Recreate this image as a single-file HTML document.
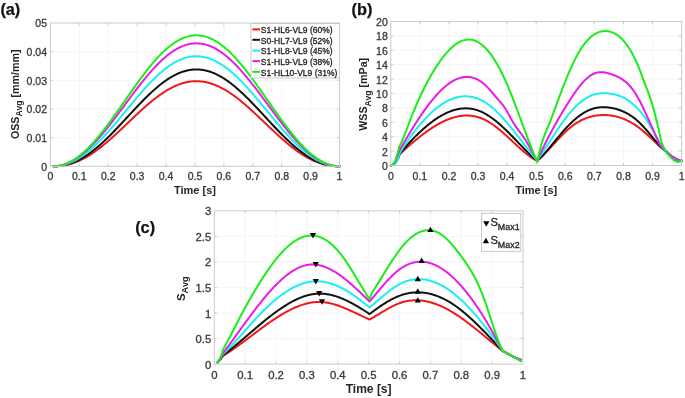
<!DOCTYPE html><html><head><meta charset="utf-8"><style>html,body{margin:0;padding:0;background:#fff;}svg{display:block;will-change:transform;}</style></head><body>
<svg width="685" height="398" viewBox="0 0 685 398" font-family='"Liberation Sans", sans-serif'>
<rect width="685" height="398" fill="#fff"/>
<g>
<line x1="79.31" y1="23.0" x2="79.31" y2="166.3" stroke="#f6f6f6" stroke-width="1.2"/>
<line x1="108.22" y1="23.0" x2="108.22" y2="166.3" stroke="#f6f6f6" stroke-width="1.2"/>
<line x1="137.13" y1="23.0" x2="137.13" y2="166.3" stroke="#f6f6f6" stroke-width="1.2"/>
<line x1="166.04" y1="23.0" x2="166.04" y2="166.3" stroke="#f6f6f6" stroke-width="1.2"/>
<line x1="194.95" y1="23.0" x2="194.95" y2="166.3" stroke="#f6f6f6" stroke-width="1.2"/>
<line x1="223.86" y1="23.0" x2="223.86" y2="166.3" stroke="#f6f6f6" stroke-width="1.2"/>
<line x1="252.77" y1="23.0" x2="252.77" y2="166.3" stroke="#f6f6f6" stroke-width="1.2"/>
<line x1="281.68" y1="23.0" x2="281.68" y2="166.3" stroke="#f6f6f6" stroke-width="1.2"/>
<line x1="310.59" y1="23.0" x2="310.59" y2="166.3" stroke="#f6f6f6" stroke-width="1.2"/>
<line x1="50.4" y1="137.64" x2="339.5" y2="137.64" stroke="#f6f6f6" stroke-width="1.2"/>
<line x1="50.4" y1="108.98" x2="339.5" y2="108.98" stroke="#f6f6f6" stroke-width="1.2"/>
<line x1="50.4" y1="80.32" x2="339.5" y2="80.32" stroke="#f6f6f6" stroke-width="1.2"/>
<line x1="50.4" y1="51.66" x2="339.5" y2="51.66" stroke="#f6f6f6" stroke-width="1.2"/>
<path d="M53.29,166.30 L54.25,166.30 L55.21,166.28 L56.16,166.25 L57.12,166.20 L58.08,166.14 L59.03,166.07 L59.99,165.98 L60.95,165.88 L61.91,165.75 L62.86,165.62 L63.82,165.46 L64.78,165.29 L65.73,165.11 L66.69,164.90 L67.65,164.68 L68.61,164.44 L69.56,164.19 L70.52,163.92 L71.48,163.63 L72.44,163.33 L73.39,163.00 L74.35,162.67 L75.31,162.31 L76.26,161.94 L77.22,161.55 L78.18,161.14 L79.14,160.72 L80.09,160.28 L81.05,159.83 L82.01,159.36 L82.96,158.87 L83.92,158.37 L84.88,157.85 L85.84,157.32 L86.79,156.77 L87.75,156.20 L88.71,155.62 L89.67,155.03 L90.62,154.42 L91.58,153.80 L92.54,153.17 L93.49,152.52 L94.45,151.85 L95.41,151.18 L96.37,150.49 L97.32,149.79 L98.28,149.07 L99.24,148.35 L100.19,147.61 L101.15,146.86 L102.11,146.10 L103.07,145.33 L104.02,144.55 L104.98,143.76 L105.94,142.96 L106.90,142.15 L107.85,141.34 L108.81,140.51 L109.77,139.67 L110.72,138.83 L111.68,137.98 L112.64,137.12 L113.60,136.26 L114.55,135.39 L115.51,134.51 L116.47,133.63 L117.42,132.75 L118.38,131.86 L119.34,130.96 L120.30,130.06 L121.25,129.16 L122.21,128.26 L123.17,127.35 L124.13,126.44 L125.08,125.53 L126.04,124.62 L127.00,123.70 L127.95,122.79 L128.91,121.87 L129.87,120.96 L130.83,120.05 L131.78,119.14 L132.74,118.23 L133.70,117.32 L134.65,116.42 L135.61,115.52 L136.57,114.62 L137.53,113.73 L138.48,112.84 L139.44,111.95 L140.40,111.07 L141.36,110.20 L142.31,109.33 L143.27,108.47 L144.23,107.62 L145.18,106.77 L146.14,105.93 L147.10,105.10 L148.06,104.28 L149.01,103.46 L149.97,102.66 L150.93,101.86 L151.88,101.08 L152.84,100.30 L153.80,99.54 L154.76,98.79 L155.71,98.05 L156.67,97.32 L157.63,96.60 L158.59,95.90 L159.54,95.21 L160.50,94.53 L161.46,93.87 L162.41,93.22 L163.37,92.58 L164.33,91.96 L165.29,91.35 L166.24,90.76 L167.20,90.19 L168.16,89.62 L169.11,89.08 L170.07,88.55 L171.03,88.04 L171.99,87.55 L172.94,87.07 L173.90,86.61 L174.86,86.17 L175.82,85.74 L176.77,85.33 L177.73,84.94 L178.69,84.57 L179.64,84.22 L180.60,83.89 L181.56,83.57 L182.52,83.28 L183.47,83.00 L184.43,82.74 L185.39,82.50 L186.34,82.28 L187.30,82.08 L188.26,81.90 L189.22,81.74 L190.17,81.60 L191.13,81.48 L192.09,81.38 L193.05,81.30 L194.00,81.24 L194.96,81.20 L195.92,81.18 L196.87,81.18 L197.83,81.20 L198.79,81.24 L199.75,81.30 L200.70,81.38 L201.66,81.48 L202.62,81.60 L203.57,81.74 L204.53,81.90 L205.49,82.08 L206.45,82.28 L207.40,82.50 L208.36,82.74 L209.32,83.00 L210.28,83.28 L211.23,83.57 L212.19,83.89 L213.15,84.22 L214.10,84.57 L215.06,84.94 L216.02,85.33 L216.98,85.74 L217.93,86.17 L218.89,86.61 L219.85,87.07 L220.80,87.55 L221.76,88.04 L222.72,88.55 L223.68,89.08 L224.63,89.62 L225.59,90.19 L226.55,90.76 L227.51,91.35 L228.46,91.96 L229.42,92.58 L230.38,93.22 L231.33,93.87 L232.29,94.53 L233.25,95.21 L234.21,95.90 L235.16,96.60 L236.12,97.32 L237.08,98.05 L238.03,98.79 L238.99,99.54 L239.95,100.30 L240.91,101.08 L241.86,101.86 L242.82,102.66 L243.78,103.46 L244.74,104.28 L245.69,105.10 L246.65,105.93 L247.61,106.77 L248.56,107.62 L249.52,108.47 L250.48,109.33 L251.44,110.20 L252.39,111.07 L253.35,111.95 L254.31,112.84 L255.26,113.73 L256.22,114.62 L257.18,115.52 L258.14,116.42 L259.09,117.32 L260.05,118.23 L261.01,119.14 L261.97,120.05 L262.92,120.96 L263.88,121.87 L264.84,122.79 L265.79,123.70 L266.75,124.62 L267.71,125.53 L268.67,126.44 L269.62,127.35 L270.58,128.26 L271.54,129.16 L272.49,130.06 L273.45,130.96 L274.41,131.86 L275.37,132.75 L276.32,133.63 L277.28,134.51 L278.24,135.39 L279.20,136.26 L280.15,137.12 L281.11,137.98 L282.07,138.83 L283.02,139.67 L283.98,140.51 L284.94,141.34 L285.90,142.15 L286.85,142.96 L287.81,143.76 L288.77,144.55 L289.72,145.33 L290.68,146.10 L291.64,146.86 L292.60,147.61 L293.55,148.35 L294.51,149.07 L295.47,149.79 L296.43,150.49 L297.38,151.18 L298.34,151.85 L299.30,152.52 L300.25,153.17 L301.21,153.80 L302.17,154.42 L303.13,155.03 L304.08,155.62 L305.04,156.20 L306.00,156.77 L306.95,157.32 L307.91,157.85 L308.87,158.37 L309.83,158.87 L310.78,159.36 L311.74,159.83 L312.70,160.28 L313.66,160.72 L314.61,161.14 L315.57,161.55 L316.53,161.94 L317.48,162.31 L318.44,162.67 L319.40,163.00 L320.36,163.33 L321.31,163.63 L322.27,163.92 L323.23,164.19 L324.18,164.44 L325.14,164.68 L326.10,164.90 L327.06,165.11 L328.01,165.29 L328.97,165.46 L329.93,165.62 L330.89,165.75 L331.84,165.88 L332.80,165.98 L333.76,166.07 L334.71,166.14 L335.67,166.20 L336.63,166.25 L337.59,166.28 L338.54,166.30 L339.50,166.30" fill="none" stroke="#f01818" stroke-width="2.0" stroke-linejoin="round" stroke-linecap="round"/>
<path d="M53.29,166.30 L54.25,166.29 L55.21,166.27 L56.16,166.24 L57.12,166.18 L58.08,166.11 L59.03,166.02 L59.99,165.92 L60.95,165.79 L61.91,165.65 L62.86,165.49 L63.82,165.31 L64.78,165.11 L65.73,164.89 L66.69,164.65 L67.65,164.39 L68.61,164.11 L69.56,163.81 L70.52,163.50 L71.48,163.16 L72.44,162.81 L73.39,162.43 L74.35,162.04 L75.31,161.63 L76.26,161.19 L77.22,160.74 L78.18,160.27 L79.14,159.79 L80.09,159.28 L81.05,158.75 L82.01,158.21 L82.96,157.65 L83.92,157.07 L84.88,156.47 L85.84,155.86 L86.79,155.23 L87.75,154.58 L88.71,153.91 L89.67,153.23 L90.62,152.53 L91.58,151.82 L92.54,151.09 L93.49,150.34 L94.45,149.58 L95.41,148.81 L96.37,148.02 L97.32,147.22 L98.28,146.40 L99.24,145.57 L100.19,144.73 L101.15,143.87 L102.11,143.00 L103.07,142.12 L104.02,141.23 L104.98,140.33 L105.94,139.42 L106.90,138.49 L107.85,137.56 L108.81,136.62 L109.77,135.67 L110.72,134.71 L111.68,133.74 L112.64,132.76 L113.60,131.78 L114.55,130.79 L115.51,129.79 L116.47,128.79 L117.42,127.78 L118.38,126.77 L119.34,125.75 L120.30,124.73 L121.25,123.71 L122.21,122.68 L123.17,121.65 L124.13,120.61 L125.08,119.58 L126.04,118.54 L127.00,117.51 L127.95,116.47 L128.91,115.43 L129.87,114.40 L130.83,113.36 L131.78,112.33 L132.74,111.30 L133.70,110.27 L134.65,109.25 L135.61,108.23 L136.57,107.21 L137.53,106.20 L138.48,105.19 L139.44,104.19 L140.40,103.19 L141.36,102.21 L142.31,101.22 L143.27,100.25 L144.23,99.28 L145.18,98.32 L146.14,97.37 L147.10,96.44 L148.06,95.50 L149.01,94.58 L149.97,93.68 L150.93,92.78 L151.88,91.89 L152.84,91.01 L153.80,90.15 L154.76,89.30 L155.71,88.47 L156.67,87.64 L157.63,86.83 L158.59,86.04 L159.54,85.26 L160.50,84.49 L161.46,83.74 L162.41,83.01 L163.37,82.29 L164.33,81.59 L165.29,80.90 L166.24,80.24 L167.20,79.59 L168.16,78.95 L169.11,78.34 L170.07,77.75 L171.03,77.17 L171.99,76.61 L172.94,76.07 L173.90,75.55 L174.86,75.05 L175.82,74.57 L176.77,74.11 L177.73,73.67 L178.69,73.26 L179.64,72.86 L180.60,72.48 L181.56,72.13 L182.52,71.79 L183.47,71.48 L184.43,71.19 L185.39,70.92 L186.34,70.67 L187.30,70.45 L188.26,70.25 L189.22,70.07 L190.17,69.91 L191.13,69.77 L192.09,69.66 L193.05,69.57 L194.00,69.50 L194.96,69.45 L195.92,69.43 L196.87,69.43 L197.83,69.45 L198.79,69.50 L199.75,69.57 L200.70,69.66 L201.66,69.77 L202.62,69.91 L203.57,70.07 L204.53,70.25 L205.49,70.45 L206.45,70.67 L207.40,70.92 L208.36,71.19 L209.32,71.48 L210.28,71.79 L211.23,72.13 L212.19,72.48 L213.15,72.86 L214.10,73.26 L215.06,73.67 L216.02,74.11 L216.98,74.57 L217.93,75.05 L218.89,75.55 L219.85,76.07 L220.80,76.61 L221.76,77.17 L222.72,77.75 L223.68,78.34 L224.63,78.95 L225.59,79.59 L226.55,80.24 L227.51,80.90 L228.46,81.59 L229.42,82.29 L230.38,83.01 L231.33,83.74 L232.29,84.49 L233.25,85.26 L234.21,86.04 L235.16,86.83 L236.12,87.64 L237.08,88.47 L238.03,89.30 L238.99,90.15 L239.95,91.01 L240.91,91.89 L241.86,92.78 L242.82,93.68 L243.78,94.58 L244.74,95.50 L245.69,96.44 L246.65,97.37 L247.61,98.32 L248.56,99.28 L249.52,100.25 L250.48,101.22 L251.44,102.21 L252.39,103.19 L253.35,104.19 L254.31,105.19 L255.26,106.20 L256.22,107.21 L257.18,108.23 L258.14,109.25 L259.09,110.27 L260.05,111.30 L261.01,112.33 L261.97,113.36 L262.92,114.40 L263.88,115.43 L264.84,116.47 L265.79,117.51 L266.75,118.54 L267.71,119.58 L268.67,120.61 L269.62,121.65 L270.58,122.68 L271.54,123.71 L272.49,124.73 L273.45,125.75 L274.41,126.77 L275.37,127.78 L276.32,128.79 L277.28,129.79 L278.24,130.79 L279.20,131.78 L280.15,132.76 L281.11,133.74 L282.07,134.71 L283.02,135.67 L283.98,136.62 L284.94,137.56 L285.90,138.49 L286.85,139.42 L287.81,140.33 L288.77,141.23 L289.72,142.12 L290.68,143.00 L291.64,143.87 L292.60,144.73 L293.55,145.57 L294.51,146.40 L295.47,147.22 L296.43,148.02 L297.38,148.81 L298.34,149.58 L299.30,150.34 L300.25,151.09 L301.21,151.82 L302.17,152.53 L303.13,153.23 L304.08,153.91 L305.04,154.58 L306.00,155.23 L306.95,155.86 L307.91,156.47 L308.87,157.07 L309.83,157.65 L310.78,158.21 L311.74,158.75 L312.70,159.28 L313.66,159.79 L314.61,160.27 L315.57,160.74 L316.53,161.19 L317.48,161.63 L318.44,162.04 L319.40,162.43 L320.36,162.81 L321.31,163.16 L322.27,163.50 L323.23,163.81 L324.18,164.11 L325.14,164.39 L326.10,164.65 L327.06,164.89 L328.01,165.11 L328.97,165.31 L329.93,165.49 L330.89,165.65 L331.84,165.79 L332.80,165.92 L333.76,166.02 L334.71,166.11 L335.67,166.18 L336.63,166.24 L337.59,166.27 L338.54,166.29 L339.50,166.30" fill="none" stroke="#111111" stroke-width="2.0" stroke-linejoin="round" stroke-linecap="round"/>
<path d="M53.29,166.30 L54.25,166.29 L55.21,166.26 L56.16,166.20 L57.12,166.13 L58.08,166.03 L59.03,165.91 L59.99,165.76 L60.95,165.60 L61.91,165.41 L62.86,165.19 L63.82,164.96 L64.78,164.70 L65.73,164.42 L66.69,164.11 L67.65,163.78 L68.61,163.43 L69.56,163.06 L70.52,162.66 L71.48,162.24 L72.44,161.80 L73.39,161.34 L74.35,160.85 L75.31,160.35 L76.26,159.82 L77.22,159.27 L78.18,158.70 L79.14,158.11 L80.09,157.49 L81.05,156.86 L82.01,156.21 L82.96,155.53 L83.92,154.84 L84.88,154.13 L85.84,153.40 L86.79,152.65 L87.75,151.88 L88.71,151.09 L89.67,150.29 L90.62,149.46 L91.58,148.62 L92.54,147.77 L93.49,146.90 L94.45,146.01 L95.41,145.10 L96.37,144.18 L97.32,143.25 L98.28,142.30 L99.24,141.34 L100.19,140.36 L101.15,139.37 L102.11,138.37 L103.07,137.36 L104.02,136.33 L104.98,135.29 L105.94,134.25 L106.90,133.19 L107.85,132.12 L108.81,131.04 L109.77,129.95 L110.72,128.86 L111.68,127.75 L112.64,126.64 L113.60,125.52 L114.55,124.40 L115.51,123.27 L116.47,122.13 L117.42,120.99 L118.38,119.84 L119.34,118.69 L120.30,117.54 L121.25,116.38 L122.21,115.23 L123.17,114.06 L124.13,112.90 L125.08,111.74 L126.04,110.58 L127.00,109.41 L127.95,108.25 L128.91,107.09 L129.87,105.93 L130.83,104.77 L131.78,103.62 L132.74,102.47 L133.70,101.32 L134.65,100.18 L135.61,99.04 L136.57,97.90 L137.53,96.78 L138.48,95.66 L139.44,94.54 L140.40,93.44 L141.36,92.34 L142.31,91.25 L143.27,90.17 L144.23,89.10 L145.18,88.03 L146.14,86.98 L147.10,85.94 L148.06,84.91 L149.01,83.89 L149.97,82.89 L150.93,81.90 L151.88,80.92 L152.84,79.95 L153.80,79.00 L154.76,78.06 L155.71,77.14 L156.67,76.23 L157.63,75.34 L158.59,74.46 L159.54,73.61 L160.50,72.76 L161.46,71.94 L162.41,71.13 L163.37,70.34 L164.33,69.57 L165.29,68.82 L166.24,68.09 L167.20,67.37 L168.16,66.68 L169.11,66.01 L170.07,65.35 L171.03,64.72 L171.99,64.11 L172.94,63.52 L173.90,62.95 L174.86,62.40 L175.82,61.87 L176.77,61.37 L177.73,60.89 L178.69,60.43 L179.64,60.00 L180.60,59.58 L181.56,59.20 L182.52,58.83 L183.47,58.49 L184.43,58.17 L185.39,57.88 L186.34,57.61 L187.30,57.36 L188.26,57.14 L189.22,56.94 L190.17,56.77 L191.13,56.62 L192.09,56.50 L193.05,56.40 L194.00,56.32 L194.96,56.27 L195.92,56.25 L196.87,56.25 L197.83,56.27 L198.79,56.32 L199.75,56.40 L200.70,56.50 L201.66,56.62 L202.62,56.77 L203.57,56.94 L204.53,57.14 L205.49,57.36 L206.45,57.61 L207.40,57.88 L208.36,58.17 L209.32,58.49 L210.28,58.83 L211.23,59.20 L212.19,59.58 L213.15,60.00 L214.10,60.43 L215.06,60.89 L216.02,61.37 L216.98,61.87 L217.93,62.40 L218.89,62.95 L219.85,63.52 L220.80,64.11 L221.76,64.72 L222.72,65.35 L223.68,66.01 L224.63,66.68 L225.59,67.37 L226.55,68.09 L227.51,68.82 L228.46,69.57 L229.42,70.34 L230.38,71.13 L231.33,71.94 L232.29,72.76 L233.25,73.61 L234.21,74.46 L235.16,75.34 L236.12,76.23 L237.08,77.14 L238.03,78.06 L238.99,79.00 L239.95,79.95 L240.91,80.92 L241.86,81.90 L242.82,82.89 L243.78,83.89 L244.74,84.91 L245.69,85.94 L246.65,86.98 L247.61,88.03 L248.56,89.10 L249.52,90.17 L250.48,91.25 L251.44,92.34 L252.39,93.44 L253.35,94.54 L254.31,95.66 L255.26,96.78 L256.22,97.90 L257.18,99.04 L258.14,100.18 L259.09,101.32 L260.05,102.47 L261.01,103.62 L261.97,104.77 L262.92,105.93 L263.88,107.09 L264.84,108.25 L265.79,109.41 L266.75,110.58 L267.71,111.74 L268.67,112.90 L269.62,114.06 L270.58,115.23 L271.54,116.38 L272.49,117.54 L273.45,118.69 L274.41,119.84 L275.37,120.99 L276.32,122.13 L277.28,123.27 L278.24,124.40 L279.20,125.52 L280.15,126.64 L281.11,127.75 L282.07,128.86 L283.02,129.95 L283.98,131.04 L284.94,132.12 L285.90,133.19 L286.85,134.25 L287.81,135.29 L288.77,136.33 L289.72,137.36 L290.68,138.37 L291.64,139.37 L292.60,140.36 L293.55,141.34 L294.51,142.30 L295.47,143.25 L296.43,144.18 L297.38,145.10 L298.34,146.01 L299.30,146.90 L300.25,147.77 L301.21,148.62 L302.17,149.46 L303.13,150.29 L304.08,151.09 L305.04,151.88 L306.00,152.65 L306.95,153.40 L307.91,154.13 L308.87,154.84 L309.83,155.53 L310.78,156.21 L311.74,156.86 L312.70,157.49 L313.66,158.11 L314.61,158.70 L315.57,159.27 L316.53,159.82 L317.48,160.35 L318.44,160.85 L319.40,161.34 L320.36,161.80 L321.31,162.24 L322.27,162.66 L323.23,163.06 L324.18,163.43 L325.14,163.78 L326.10,164.11 L327.06,164.42 L328.01,164.70 L328.97,164.96 L329.93,165.19 L330.89,165.41 L331.84,165.60 L332.80,165.76 L333.76,165.91 L334.71,166.03 L335.67,166.13 L336.63,166.20 L337.59,166.26 L338.54,166.29 L339.50,166.30" fill="none" stroke="#18f0f0" stroke-width="2.0" stroke-linejoin="round" stroke-linecap="round"/>
<path d="M53.29,166.30 L54.25,166.29 L55.21,166.25 L56.16,166.18 L57.12,166.08 L58.08,165.96 L59.03,165.81 L59.99,165.64 L60.95,165.43 L61.91,165.20 L62.86,164.95 L63.82,164.66 L64.78,164.36 L65.73,164.02 L66.69,163.66 L67.65,163.27 L68.61,162.86 L69.56,162.42 L70.52,161.95 L71.48,161.46 L72.44,160.95 L73.39,160.41 L74.35,159.85 L75.31,159.26 L76.26,158.65 L77.22,158.01 L78.18,157.35 L79.14,156.67 L80.09,155.96 L81.05,155.23 L82.01,154.48 L82.96,153.71 L83.92,152.92 L84.88,152.10 L85.84,151.27 L86.79,150.41 L87.75,149.53 L88.71,148.64 L89.67,147.72 L90.62,146.78 L91.58,145.83 L92.54,144.86 L93.49,143.87 L94.45,142.86 L95.41,141.84 L96.37,140.80 L97.32,139.75 L98.28,138.68 L99.24,137.59 L100.19,136.49 L101.15,135.38 L102.11,134.25 L103.07,133.11 L104.02,131.95 L104.98,130.79 L105.94,129.61 L106.90,128.42 L107.85,127.23 L108.81,126.02 L109.77,124.80 L110.72,123.58 L111.68,122.34 L112.64,121.10 L113.60,119.85 L114.55,118.59 L115.51,117.33 L116.47,116.06 L117.42,114.79 L118.38,113.52 L119.34,112.23 L120.30,110.95 L121.25,109.66 L122.21,108.37 L123.17,107.08 L124.13,105.79 L125.08,104.50 L126.04,103.21 L127.00,101.92 L127.95,100.63 L128.91,99.34 L129.87,98.06 L130.83,96.77 L131.78,95.49 L132.74,94.22 L133.70,92.95 L134.65,91.68 L135.61,90.43 L136.57,89.17 L137.53,87.93 L138.48,86.69 L139.44,85.46 L140.40,84.24 L141.36,83.02 L142.31,81.82 L143.27,80.63 L144.23,79.45 L145.18,78.28 L146.14,77.12 L147.10,75.97 L148.06,74.84 L149.01,73.71 L149.97,72.61 L150.93,71.51 L151.88,70.44 L152.84,69.37 L153.80,68.32 L154.76,67.29 L155.71,66.28 L156.67,65.28 L157.63,64.30 L158.59,63.34 L159.54,62.39 L160.50,61.47 L161.46,60.56 L162.41,59.68 L163.37,58.81 L164.33,57.96 L165.29,57.14 L166.24,56.33 L167.20,55.55 L168.16,54.79 L169.11,54.05 L170.07,53.33 L171.03,52.64 L171.99,51.97 L172.94,51.32 L173.90,50.69 L174.86,50.09 L175.82,49.52 L176.77,48.97 L177.73,48.44 L178.69,47.94 L179.64,47.46 L180.60,47.01 L181.56,46.58 L182.52,46.18 L183.47,45.81 L184.43,45.46 L185.39,45.13 L186.34,44.84 L187.30,44.57 L188.26,44.33 L189.22,44.11 L190.17,43.92 L191.13,43.76 L192.09,43.62 L193.05,43.51 L194.00,43.43 L194.96,43.38 L195.92,43.35 L196.87,43.35 L197.83,43.38 L198.79,43.43 L199.75,43.51 L200.70,43.62 L201.66,43.76 L202.62,43.92 L203.57,44.11 L204.53,44.33 L205.49,44.57 L206.45,44.84 L207.40,45.13 L208.36,45.46 L209.32,45.81 L210.28,46.18 L211.23,46.58 L212.19,47.01 L213.15,47.46 L214.10,47.94 L215.06,48.44 L216.02,48.97 L216.98,49.52 L217.93,50.09 L218.89,50.69 L219.85,51.32 L220.80,51.97 L221.76,52.64 L222.72,53.33 L223.68,54.05 L224.63,54.79 L225.59,55.55 L226.55,56.33 L227.51,57.14 L228.46,57.96 L229.42,58.81 L230.38,59.68 L231.33,60.56 L232.29,61.47 L233.25,62.39 L234.21,63.34 L235.16,64.30 L236.12,65.28 L237.08,66.28 L238.03,67.29 L238.99,68.32 L239.95,69.37 L240.91,70.44 L241.86,71.51 L242.82,72.61 L243.78,73.71 L244.74,74.84 L245.69,75.97 L246.65,77.12 L247.61,78.28 L248.56,79.45 L249.52,80.63 L250.48,81.82 L251.44,83.02 L252.39,84.24 L253.35,85.46 L254.31,86.69 L255.26,87.93 L256.22,89.17 L257.18,90.43 L258.14,91.68 L259.09,92.95 L260.05,94.22 L261.01,95.49 L261.97,96.77 L262.92,98.06 L263.88,99.34 L264.84,100.63 L265.79,101.92 L266.75,103.21 L267.71,104.50 L268.67,105.79 L269.62,107.08 L270.58,108.37 L271.54,109.66 L272.49,110.95 L273.45,112.23 L274.41,113.52 L275.37,114.79 L276.32,116.06 L277.28,117.33 L278.24,118.59 L279.20,119.85 L280.15,121.10 L281.11,122.34 L282.07,123.58 L283.02,124.80 L283.98,126.02 L284.94,127.23 L285.90,128.42 L286.85,129.61 L287.81,130.79 L288.77,131.95 L289.72,133.11 L290.68,134.25 L291.64,135.38 L292.60,136.49 L293.55,137.59 L294.51,138.68 L295.47,139.75 L296.43,140.80 L297.38,141.84 L298.34,142.86 L299.30,143.87 L300.25,144.86 L301.21,145.83 L302.17,146.78 L303.13,147.72 L304.08,148.64 L305.04,149.53 L306.00,150.41 L306.95,151.27 L307.91,152.10 L308.87,152.92 L309.83,153.71 L310.78,154.48 L311.74,155.23 L312.70,155.96 L313.66,156.67 L314.61,157.35 L315.57,158.01 L316.53,158.65 L317.48,159.26 L318.44,159.85 L319.40,160.41 L320.36,160.95 L321.31,161.46 L322.27,161.95 L323.23,162.42 L324.18,162.86 L325.14,163.27 L326.10,163.66 L327.06,164.02 L328.01,164.36 L328.97,164.66 L329.93,164.95 L330.89,165.20 L331.84,165.43 L332.80,165.64 L333.76,165.81 L334.71,165.96 L335.67,166.08 L336.63,166.18 L337.59,166.25 L338.54,166.29 L339.50,166.30" fill="none" stroke="#e81ce8" stroke-width="2.0" stroke-linejoin="round" stroke-linecap="round"/>
<path d="M53.29,166.30 L54.25,166.29 L55.21,166.24 L56.16,166.17 L57.12,166.07 L58.08,165.94 L59.03,165.78 L59.99,165.59 L60.95,165.38 L61.91,165.13 L62.86,164.86 L63.82,164.56 L64.78,164.23 L65.73,163.87 L66.69,163.49 L67.65,163.07 L68.61,162.63 L69.56,162.17 L70.52,161.67 L71.48,161.15 L72.44,160.60 L73.39,160.03 L74.35,159.43 L75.31,158.80 L76.26,158.15 L77.22,157.47 L78.18,156.77 L79.14,156.04 L80.09,155.29 L81.05,154.51 L82.01,153.71 L82.96,152.89 L83.92,152.04 L84.88,151.17 L85.84,150.28 L86.79,149.37 L87.75,148.44 L88.71,147.48 L89.67,146.51 L90.62,145.51 L91.58,144.50 L92.54,143.46 L93.49,142.41 L94.45,141.33 L95.41,140.24 L96.37,139.14 L97.32,138.01 L98.28,136.87 L99.24,135.72 L100.19,134.54 L101.15,133.36 L102.11,132.16 L103.07,130.94 L104.02,129.71 L104.98,128.47 L105.94,127.22 L106.90,125.95 L107.85,124.68 L108.81,123.39 L109.77,122.09 L110.72,120.79 L111.68,119.47 L112.64,118.15 L113.60,116.82 L114.55,115.48 L115.51,114.14 L116.47,112.79 L117.42,111.43 L118.38,110.07 L119.34,108.71 L120.30,107.34 L121.25,105.97 L122.21,104.59 L123.17,103.22 L124.13,101.84 L125.08,100.47 L126.04,99.09 L127.00,97.72 L127.95,96.34 L128.91,94.97 L129.87,93.60 L130.83,92.24 L131.78,90.87 L132.74,89.52 L133.70,88.16 L134.65,86.82 L135.61,85.47 L136.57,84.14 L137.53,82.81 L138.48,81.49 L139.44,80.18 L140.40,78.88 L141.36,77.59 L142.31,76.31 L143.27,75.04 L144.23,73.78 L145.18,72.53 L146.14,71.30 L147.10,70.07 L148.06,68.87 L149.01,67.67 L149.97,66.49 L150.93,65.33 L151.88,64.18 L152.84,63.05 L153.80,61.93 L154.76,60.83 L155.71,59.75 L156.67,58.69 L157.63,57.64 L158.59,56.62 L159.54,55.61 L160.50,54.63 L161.46,53.66 L162.41,52.72 L163.37,51.79 L164.33,50.89 L165.29,50.01 L166.24,49.15 L167.20,48.32 L168.16,47.51 L169.11,46.72 L170.07,45.96 L171.03,45.22 L171.99,44.50 L172.94,43.81 L173.90,43.15 L174.86,42.51 L175.82,41.89 L176.77,41.31 L177.73,40.75 L178.69,40.21 L179.64,39.70 L180.60,39.22 L181.56,38.77 L182.52,38.34 L183.47,37.94 L184.43,37.57 L185.39,37.23 L186.34,36.91 L187.30,36.62 L188.26,36.37 L189.22,36.14 L190.17,35.93 L191.13,35.76 L192.09,35.62 L193.05,35.50 L194.00,35.41 L194.96,35.36 L195.92,35.33 L196.87,35.33 L197.83,35.36 L198.79,35.41 L199.75,35.50 L200.70,35.62 L201.66,35.76 L202.62,35.93 L203.57,36.14 L204.53,36.37 L205.49,36.62 L206.45,36.91 L207.40,37.23 L208.36,37.57 L209.32,37.94 L210.28,38.34 L211.23,38.77 L212.19,39.22 L213.15,39.70 L214.10,40.21 L215.06,40.75 L216.02,41.31 L216.98,41.89 L217.93,42.51 L218.89,43.15 L219.85,43.81 L220.80,44.50 L221.76,45.22 L222.72,45.96 L223.68,46.72 L224.63,47.51 L225.59,48.32 L226.55,49.15 L227.51,50.01 L228.46,50.89 L229.42,51.79 L230.38,52.72 L231.33,53.66 L232.29,54.63 L233.25,55.61 L234.21,56.62 L235.16,57.64 L236.12,58.69 L237.08,59.75 L238.03,60.83 L238.99,61.93 L239.95,63.05 L240.91,64.18 L241.86,65.33 L242.82,66.49 L243.78,67.67 L244.74,68.87 L245.69,70.07 L246.65,71.30 L247.61,72.53 L248.56,73.78 L249.52,75.04 L250.48,76.31 L251.44,77.59 L252.39,78.88 L253.35,80.18 L254.31,81.49 L255.26,82.81 L256.22,84.14 L257.18,85.47 L258.14,86.82 L259.09,88.16 L260.05,89.52 L261.01,90.87 L261.97,92.24 L262.92,93.60 L263.88,94.97 L264.84,96.34 L265.79,97.72 L266.75,99.09 L267.71,100.47 L268.67,101.84 L269.62,103.22 L270.58,104.59 L271.54,105.97 L272.49,107.34 L273.45,108.71 L274.41,110.07 L275.37,111.43 L276.32,112.79 L277.28,114.14 L278.24,115.48 L279.20,116.82 L280.15,118.15 L281.11,119.47 L282.07,120.79 L283.02,122.09 L283.98,123.39 L284.94,124.68 L285.90,125.95 L286.85,127.22 L287.81,128.47 L288.77,129.71 L289.72,130.94 L290.68,132.16 L291.64,133.36 L292.60,134.54 L293.55,135.72 L294.51,136.87 L295.47,138.01 L296.43,139.14 L297.38,140.24 L298.34,141.33 L299.30,142.41 L300.25,143.46 L301.21,144.50 L302.17,145.51 L303.13,146.51 L304.08,147.48 L305.04,148.44 L306.00,149.37 L306.95,150.28 L307.91,151.17 L308.87,152.04 L309.83,152.89 L310.78,153.71 L311.74,154.51 L312.70,155.29 L313.66,156.04 L314.61,156.77 L315.57,157.47 L316.53,158.15 L317.48,158.80 L318.44,159.43 L319.40,160.03 L320.36,160.60 L321.31,161.15 L322.27,161.67 L323.23,162.17 L324.18,162.63 L325.14,163.07 L326.10,163.49 L327.06,163.87 L328.01,164.23 L328.97,164.56 L329.93,164.86 L330.89,165.13 L331.84,165.38 L332.80,165.59 L333.76,165.78 L334.71,165.94 L335.67,166.07 L336.63,166.17 L337.59,166.24 L338.54,166.29 L339.50,166.30" fill="none" stroke="#18ee18" stroke-width="2.0" stroke-linejoin="round" stroke-linecap="round"/>
<rect x="50.4" y="23.0" width="289.10" height="143.30" fill="none" stroke="#cacaca" stroke-width="1"/>
<line x1="79.31" y1="166.3" x2="79.31" y2="163.8" stroke="#cacaca" stroke-width="1"/>
<line x1="79.31" y1="23.0" x2="79.31" y2="25.5" stroke="#cacaca" stroke-width="1"/>
<line x1="108.22" y1="166.3" x2="108.22" y2="163.8" stroke="#cacaca" stroke-width="1"/>
<line x1="108.22" y1="23.0" x2="108.22" y2="25.5" stroke="#cacaca" stroke-width="1"/>
<line x1="137.13" y1="166.3" x2="137.13" y2="163.8" stroke="#cacaca" stroke-width="1"/>
<line x1="137.13" y1="23.0" x2="137.13" y2="25.5" stroke="#cacaca" stroke-width="1"/>
<line x1="166.04" y1="166.3" x2="166.04" y2="163.8" stroke="#cacaca" stroke-width="1"/>
<line x1="166.04" y1="23.0" x2="166.04" y2="25.5" stroke="#cacaca" stroke-width="1"/>
<line x1="194.95" y1="166.3" x2="194.95" y2="163.8" stroke="#cacaca" stroke-width="1"/>
<line x1="194.95" y1="23.0" x2="194.95" y2="25.5" stroke="#cacaca" stroke-width="1"/>
<line x1="223.86" y1="166.3" x2="223.86" y2="163.8" stroke="#cacaca" stroke-width="1"/>
<line x1="223.86" y1="23.0" x2="223.86" y2="25.5" stroke="#cacaca" stroke-width="1"/>
<line x1="252.77" y1="166.3" x2="252.77" y2="163.8" stroke="#cacaca" stroke-width="1"/>
<line x1="252.77" y1="23.0" x2="252.77" y2="25.5" stroke="#cacaca" stroke-width="1"/>
<line x1="281.68" y1="166.3" x2="281.68" y2="163.8" stroke="#cacaca" stroke-width="1"/>
<line x1="281.68" y1="23.0" x2="281.68" y2="25.5" stroke="#cacaca" stroke-width="1"/>
<line x1="310.59" y1="166.3" x2="310.59" y2="163.8" stroke="#cacaca" stroke-width="1"/>
<line x1="310.59" y1="23.0" x2="310.59" y2="25.5" stroke="#cacaca" stroke-width="1"/>
<line x1="50.4" y1="137.64" x2="52.9" y2="137.64" stroke="#cacaca" stroke-width="1"/>
<line x1="339.5" y1="137.64" x2="337.0" y2="137.64" stroke="#cacaca" stroke-width="1"/>
<line x1="50.4" y1="108.98" x2="52.9" y2="108.98" stroke="#cacaca" stroke-width="1"/>
<line x1="339.5" y1="108.98" x2="337.0" y2="108.98" stroke="#cacaca" stroke-width="1"/>
<line x1="50.4" y1="80.32" x2="52.9" y2="80.32" stroke="#cacaca" stroke-width="1"/>
<line x1="339.5" y1="80.32" x2="337.0" y2="80.32" stroke="#cacaca" stroke-width="1"/>
<line x1="50.4" y1="51.66" x2="52.9" y2="51.66" stroke="#cacaca" stroke-width="1"/>
<line x1="339.5" y1="51.66" x2="337.0" y2="51.66" stroke="#cacaca" stroke-width="1"/>
<g font-size="10" fill="#3a3a3a" stroke="#3a3a3a" stroke-width="0.3">
<text transform="translate(50.40,180.3) scale(1.05,1)" text-anchor="middle">0</text>
<text transform="translate(79.31,180.3) scale(1.05,1)" text-anchor="middle">0.1</text>
<text transform="translate(108.22,180.3) scale(1.05,1)" text-anchor="middle">0.2</text>
<text transform="translate(137.13,180.3) scale(1.05,1)" text-anchor="middle">0.3</text>
<text transform="translate(166.04,180.3) scale(1.05,1)" text-anchor="middle">0.4</text>
<text transform="translate(194.95,180.3) scale(1.05,1)" text-anchor="middle">0.5</text>
<text transform="translate(223.86,180.3) scale(1.05,1)" text-anchor="middle">0.6</text>
<text transform="translate(252.77,180.3) scale(1.05,1)" text-anchor="middle">0.7</text>
<text transform="translate(281.68,180.3) scale(1.05,1)" text-anchor="middle">0.8</text>
<text transform="translate(310.59,180.3) scale(1.05,1)" text-anchor="middle">0.9</text>
<text transform="translate(339.50,180.3) scale(1.05,1)" text-anchor="middle">1</text>
<text transform="translate(47.0,170.70) scale(1.05,1)" text-anchor="end">0</text>
<text transform="translate(47.0,142.04) scale(1.05,1)" text-anchor="end">0.01</text>
<text transform="translate(47.0,113.38) scale(1.05,1)" text-anchor="end">0.02</text>
<text transform="translate(47.0,84.72) scale(1.05,1)" text-anchor="end">0.03</text>
<text transform="translate(47.0,56.06) scale(1.05,1)" text-anchor="end">0.04</text>
<text transform="translate(47.0,27.40) scale(1.05,1)" text-anchor="end">05</text>
</g>
<line x1="419.88" y1="21.5" x2="419.88" y2="165.5" stroke="#f6f6f6" stroke-width="1.2"/>
<line x1="448.96" y1="21.5" x2="448.96" y2="165.5" stroke="#f6f6f6" stroke-width="1.2"/>
<line x1="478.04" y1="21.5" x2="478.04" y2="165.5" stroke="#f6f6f6" stroke-width="1.2"/>
<line x1="507.12" y1="21.5" x2="507.12" y2="165.5" stroke="#f6f6f6" stroke-width="1.2"/>
<line x1="536.20" y1="21.5" x2="536.20" y2="165.5" stroke="#f6f6f6" stroke-width="1.2"/>
<line x1="565.28" y1="21.5" x2="565.28" y2="165.5" stroke="#f6f6f6" stroke-width="1.2"/>
<line x1="594.36" y1="21.5" x2="594.36" y2="165.5" stroke="#f6f6f6" stroke-width="1.2"/>
<line x1="623.44" y1="21.5" x2="623.44" y2="165.5" stroke="#f6f6f6" stroke-width="1.2"/>
<line x1="652.52" y1="21.5" x2="652.52" y2="165.5" stroke="#f6f6f6" stroke-width="1.2"/>
<line x1="390.8" y1="151.10" x2="681.6" y2="151.10" stroke="#f6f6f6" stroke-width="1.2"/>
<line x1="390.8" y1="136.70" x2="681.6" y2="136.70" stroke="#f6f6f6" stroke-width="1.2"/>
<line x1="390.8" y1="122.30" x2="681.6" y2="122.30" stroke="#f6f6f6" stroke-width="1.2"/>
<line x1="390.8" y1="107.90" x2="681.6" y2="107.90" stroke="#f6f6f6" stroke-width="1.2"/>
<line x1="390.8" y1="93.50" x2="681.6" y2="93.50" stroke="#f6f6f6" stroke-width="1.2"/>
<line x1="390.8" y1="79.10" x2="681.6" y2="79.10" stroke="#f6f6f6" stroke-width="1.2"/>
<line x1="390.8" y1="64.70" x2="681.6" y2="64.70" stroke="#f6f6f6" stroke-width="1.2"/>
<line x1="390.8" y1="50.30" x2="681.6" y2="50.30" stroke="#f6f6f6" stroke-width="1.2"/>
<line x1="390.8" y1="35.90" x2="681.6" y2="35.90" stroke="#f6f6f6" stroke-width="1.2"/>
<path d="M390.80,165.50 L391.62,165.20 L392.44,164.80 L393.26,164.35 L394.08,163.81 L394.90,163.16 L395.72,162.32 L396.54,161.15 L397.36,159.70 L398.18,158.08 L399.00,156.18 L399.81,153.98 L400.55,153.31 L401.28,152.64 L402.02,151.98 L402.75,151.31 L403.48,150.65 L404.22,149.99 L404.95,149.34 L405.69,148.68 L406.42,148.03 L407.15,147.38 L407.89,146.74 L408.62,146.09 L409.36,145.45 L410.09,144.82 L410.82,144.18 L411.56,143.55 L412.29,142.93 L413.03,142.31 L413.76,141.69 L414.49,141.08 L415.23,140.47 L415.96,139.86 L416.70,139.26 L417.43,138.66 L418.16,138.07 L418.90,137.48 L419.63,136.90 L420.37,136.33 L421.10,135.75 L421.83,135.19 L422.57,134.63 L423.30,134.07 L424.04,133.52 L424.77,132.98 L425.50,132.44 L426.24,131.91 L426.97,131.38 L427.71,130.86 L428.44,130.35 L429.17,129.84 L429.91,129.34 L430.64,128.85 L431.38,128.36 L432.11,127.88 L432.84,127.41 L433.58,126.94 L434.31,126.49 L435.05,126.04 L435.78,125.59 L436.51,125.16 L437.25,124.73 L437.98,124.31 L438.72,123.90 L439.45,123.50 L440.18,123.11 L440.92,122.72 L441.65,122.34 L442.39,121.98 L443.12,121.62 L443.85,121.27 L444.59,120.93 L445.32,120.59 L446.06,120.27 L446.79,119.96 L447.52,119.66 L448.26,119.36 L448.99,119.08 L449.73,118.80 L450.46,118.54 L451.19,118.29 L451.93,118.04 L452.66,117.81 L453.40,117.59 L454.13,117.38 L454.86,117.18 L455.60,116.99 L456.33,116.81 L457.07,116.65 L457.80,116.49 L458.53,116.35 L459.27,116.21 L460.00,116.09 L460.74,115.98 L461.47,115.89 L462.20,115.80 L462.94,115.73 L463.67,115.67 L464.41,115.62 L465.14,115.59 L465.87,115.56 L466.61,115.56 L467.34,115.56 L468.08,115.58 L468.81,115.60 L469.54,115.65 L470.28,115.70 L471.01,115.77 L471.75,115.86 L472.48,115.96 L473.21,116.07 L473.95,116.19 L474.68,116.33 L475.42,116.49 L476.15,116.66 L476.88,116.84 L477.62,117.04 L478.35,117.25 L479.09,117.48 L479.82,117.72 L480.55,117.98 L481.29,118.25 L482.02,118.54 L482.76,118.85 L483.49,119.17 L484.22,119.50 L484.96,119.86 L485.69,120.22 L486.43,120.61 L487.16,121.01 L487.89,121.42 L488.63,121.86 L489.36,122.30 L490.10,122.76 L490.83,123.24 L491.56,123.72 L492.30,124.22 L493.03,124.74 L493.77,125.26 L494.50,125.80 L495.23,126.35 L495.97,126.91 L496.70,127.48 L497.44,128.06 L498.17,128.64 L498.90,129.24 L499.64,129.85 L500.37,130.46 L501.11,131.08 L501.84,131.71 L502.57,132.35 L503.31,132.99 L504.04,133.64 L504.78,134.29 L505.51,134.95 L506.24,135.61 L506.98,136.28 L507.71,136.95 L508.45,137.62 L509.18,138.30 L509.91,138.97 L510.65,139.65 L511.38,140.33 L512.12,141.02 L512.85,141.70 L513.58,142.38 L514.32,143.06 L515.05,143.74 L515.79,144.42 L516.52,145.10 L517.25,145.78 L517.99,146.45 L518.72,147.12 L519.46,147.79 L520.19,148.45 L520.92,149.10 L521.66,149.75 L522.39,150.40 L523.13,151.03 L523.86,151.66 L524.59,152.28 L525.33,152.89 L526.06,153.49 L526.80,154.08 L527.53,154.65 L528.26,155.22 L529.00,155.77 L529.73,156.31 L530.47,156.84 L531.20,157.35 L531.93,157.84 L532.67,158.32 L533.40,158.79 L534.14,159.23 L534.87,159.66 L535.60,160.07 L536.34,160.45 L537.07,160.82 L537.81,160.21 L538.54,159.58 L539.27,158.93 L540.01,158.27 L540.74,157.59 L541.48,156.90 L542.21,156.20 L542.94,155.48 L543.68,154.75 L544.41,154.02 L545.15,153.27 L545.88,152.52 L546.61,151.75 L547.35,150.98 L548.08,150.20 L548.82,149.42 L549.55,148.63 L550.28,147.84 L551.02,147.04 L551.75,146.24 L552.48,145.44 L553.22,144.64 L553.95,143.84 L554.69,143.04 L555.42,142.24 L556.15,141.44 L556.89,140.65 L557.62,139.85 L558.36,139.07 L559.09,138.29 L559.82,137.51 L560.56,136.74 L561.29,135.98 L562.03,135.22 L562.76,134.48 L563.49,133.75 L564.23,133.02 L564.96,132.31 L565.70,131.61 L566.43,130.92 L567.16,130.25 L567.90,129.59 L568.63,128.94 L569.37,128.32 L570.10,127.70 L570.83,127.11 L571.57,126.53 L572.30,125.97 L573.03,125.42 L573.77,124.89 L574.50,124.37 L575.24,123.87 L575.97,123.39 L576.70,122.92 L577.44,122.47 L578.17,122.03 L578.91,121.60 L579.64,121.19 L580.37,120.80 L581.11,120.42 L581.84,120.05 L582.58,119.70 L583.31,119.36 L584.04,119.04 L584.78,118.73 L585.51,118.43 L586.25,118.15 L586.98,117.88 L587.71,117.62 L588.45,117.37 L589.18,117.14 L589.91,116.93 L590.65,116.72 L591.38,116.53 L592.12,116.35 L592.85,116.18 L593.58,116.02 L594.32,115.88 L595.05,115.75 L595.79,115.62 L596.52,115.52 L597.25,115.42 L597.99,115.33 L598.72,115.26 L599.46,115.19 L600.19,115.14 L600.92,115.09 L601.66,115.06 L602.39,115.04 L603.13,115.03 L603.86,115.03 L604.59,115.04 L605.33,115.06 L606.06,115.08 L606.80,115.12 L607.53,115.17 L608.26,115.23 L609.00,115.30 L609.73,115.38 L610.46,115.46 L611.20,115.56 L611.93,115.67 L612.67,115.79 L613.40,115.92 L614.13,116.06 L614.87,116.22 L615.60,116.38 L616.34,116.55 L617.07,116.74 L617.80,116.93 L618.54,117.14 L619.27,117.36 L620.01,117.59 L620.74,117.83 L621.47,118.08 L622.21,118.35 L622.94,118.62 L623.68,118.91 L624.41,119.21 L625.14,119.52 L625.88,119.84 L626.61,120.18 L627.35,120.53 L628.08,120.89 L628.81,121.26 L629.55,121.64 L630.28,122.04 L631.01,122.45 L631.75,122.87 L632.48,123.31 L633.22,123.76 L633.95,124.22 L634.68,124.69 L635.42,125.18 L636.15,125.68 L636.89,126.19 L637.62,126.72 L638.35,127.26 L639.09,127.82 L639.82,128.38 L640.56,128.96 L641.29,129.55 L642.02,130.15 L642.76,130.75 L643.49,131.37 L644.23,132.00 L644.96,132.63 L645.69,133.28 L646.43,133.93 L647.16,134.58 L647.89,135.24 L648.63,135.91 L649.36,136.58 L650.10,137.26 L650.83,137.94 L651.56,138.62 L652.30,139.30 L653.03,139.98 L653.77,140.67 L654.50,141.36 L655.23,142.04 L655.97,142.73 L656.70,143.41 L657.44,144.09 L658.17,144.77 L658.90,145.44 L659.64,146.11 L660.37,146.78 L661.13,147.40 L661.89,148.02 L662.65,148.65 L663.40,149.27 L664.16,149.90 L664.92,150.53 L665.68,151.16 L666.44,151.81 L667.20,152.50 L667.95,153.19 L668.71,153.89 L669.47,154.58 L670.23,155.25 L670.99,155.88 L671.74,156.46 L672.50,156.99 L673.26,157.45 L674.02,157.89 L674.78,158.32 L675.53,158.73 L676.29,159.12 L677.05,159.50 L677.81,159.85 L678.57,160.17 L679.33,160.47 L680.08,160.74 L680.84,160.98 L681.60,161.18" fill="none" stroke="#f01818" stroke-width="2.0" stroke-linejoin="round" stroke-linecap="round"/>
<path d="M390.80,165.50 L391.62,165.20 L392.44,164.80 L393.26,164.35 L394.08,163.81 L394.90,163.16 L395.72,162.32 L396.54,161.17 L397.36,159.73 L398.18,158.08 L399.00,156.04 L399.81,153.62 L400.55,152.76 L401.28,151.90 L402.02,151.04 L402.75,150.19 L403.48,149.35 L404.22,148.51 L404.95,147.68 L405.69,146.85 L406.42,146.03 L407.15,145.21 L407.89,144.40 L408.62,143.60 L409.36,142.80 L410.09,142.01 L410.82,141.23 L411.56,140.45 L412.29,139.68 L413.03,138.91 L413.76,138.15 L414.49,137.40 L415.23,136.66 L415.96,135.92 L416.70,135.19 L417.43,134.47 L418.16,133.76 L418.90,133.05 L419.63,132.35 L420.37,131.66 L421.10,130.98 L421.83,130.30 L422.57,129.63 L423.30,128.98 L424.04,128.32 L424.77,127.68 L425.50,127.05 L426.24,126.42 L426.97,125.81 L427.71,125.20 L428.44,124.60 L429.17,124.01 L429.91,123.43 L430.64,122.86 L431.38,122.30 L432.11,121.74 L432.84,121.20 L433.58,120.67 L434.31,120.14 L435.05,119.63 L435.78,119.13 L436.51,118.63 L437.25,118.15 L437.98,117.68 L438.72,117.21 L439.45,116.76 L440.18,116.32 L440.92,115.89 L441.65,115.47 L442.39,115.06 L443.12,114.66 L443.85,114.27 L444.59,113.90 L445.32,113.53 L446.06,113.18 L446.79,112.84 L447.52,112.51 L448.26,112.19 L448.99,111.89 L449.73,111.59 L450.46,111.31 L451.19,111.04 L451.93,110.78 L452.66,110.54 L453.40,110.31 L454.13,110.08 L454.86,109.88 L455.60,109.68 L456.33,109.50 L457.07,109.33 L457.80,109.18 L458.53,109.03 L459.27,108.91 L460.00,108.79 L460.74,108.69 L461.47,108.60 L462.20,108.53 L462.94,108.46 L463.67,108.42 L464.41,108.39 L465.14,108.37 L465.87,108.36 L466.61,108.37 L467.34,108.40 L468.08,108.44 L468.81,108.49 L469.54,108.56 L470.28,108.64 L471.01,108.74 L471.75,108.86 L472.48,108.98 L473.21,109.13 L473.95,109.29 L474.68,109.46 L475.42,109.65 L476.15,109.86 L476.88,110.08 L477.62,110.32 L478.35,110.58 L479.09,110.85 L479.82,111.13 L480.55,111.44 L481.29,111.76 L482.02,112.09 L482.76,112.44 L483.49,112.81 L484.22,113.19 L484.96,113.59 L485.69,114.00 L486.43,114.42 L487.16,114.86 L487.89,115.32 L488.63,115.78 L489.36,116.26 L490.10,116.76 L490.83,117.26 L491.56,117.78 L492.30,118.31 L493.03,118.85 L493.77,119.41 L494.50,119.97 L495.23,120.55 L495.97,121.13 L496.70,121.73 L497.44,122.34 L498.17,122.96 L498.90,123.58 L499.64,124.22 L500.37,124.87 L501.11,125.52 L501.84,126.18 L502.57,126.86 L503.31,127.54 L504.04,128.22 L504.78,128.92 L505.51,129.62 L506.24,130.33 L506.98,131.05 L507.71,131.77 L508.45,132.50 L509.18,133.23 L509.91,133.97 L510.65,134.72 L511.38,135.47 L512.12,136.22 L512.85,136.98 L513.58,137.74 L514.32,138.50 L515.05,139.27 L515.79,140.03 L516.52,140.80 L517.25,141.57 L517.99,142.34 L518.72,143.11 L519.46,143.87 L520.19,144.64 L520.92,145.41 L521.66,146.17 L522.39,146.93 L523.13,147.68 L523.86,148.44 L524.59,149.19 L525.33,149.93 L526.06,150.67 L526.80,151.40 L527.53,152.13 L528.26,152.85 L529.00,153.57 L529.73,154.27 L530.47,154.97 L531.20,155.66 L531.93,156.34 L532.67,157.01 L533.40,157.68 L534.14,158.33 L534.87,158.97 L535.60,159.60 L536.34,160.22 L537.07,160.82 L537.81,160.21 L538.54,159.56 L539.27,158.90 L540.01,158.21 L540.74,157.50 L541.48,156.76 L542.21,156.01 L542.94,155.24 L543.68,154.45 L544.41,153.65 L545.15,152.83 L545.88,151.99 L546.61,151.15 L547.35,150.29 L548.08,149.42 L548.82,148.55 L549.55,147.66 L550.28,146.77 L551.02,145.88 L551.75,144.98 L552.48,144.08 L553.22,143.17 L553.95,142.27 L554.69,141.36 L555.42,140.46 L556.15,139.56 L556.89,138.67 L557.62,137.78 L558.36,136.90 L559.09,136.02 L559.82,135.15 L560.56,134.28 L561.29,133.43 L562.03,132.58 L562.76,131.74 L563.49,130.90 L564.23,130.08 L564.96,129.27 L565.70,128.47 L566.43,127.67 L567.16,126.89 L567.90,126.12 L568.63,125.37 L569.37,124.62 L570.10,123.89 L570.83,123.17 L571.57,122.47 L572.30,121.78 L573.03,121.10 L573.77,120.44 L574.50,119.79 L575.24,119.16 L575.97,118.54 L576.70,117.93 L577.44,117.34 L578.17,116.77 L578.91,116.21 L579.64,115.66 L580.37,115.13 L581.11,114.62 L581.84,114.12 L582.58,113.64 L583.31,113.18 L584.04,112.73 L584.78,112.30 L585.51,111.88 L586.25,111.48 L586.98,111.10 L587.71,110.74 L588.45,110.39 L589.18,110.06 L589.91,109.75 L590.65,109.46 L591.38,109.19 L592.12,108.93 L592.85,108.69 L593.58,108.47 L594.32,108.28 L595.05,108.09 L595.79,107.93 L596.52,107.79 L597.25,107.66 L597.99,107.55 L598.72,107.46 L599.46,107.38 L600.19,107.32 L600.92,107.27 L601.66,107.24 L602.39,107.22 L603.13,107.21 L603.86,107.21 L604.59,107.23 L605.33,107.26 L606.06,107.30 L606.80,107.35 L607.53,107.41 L608.26,107.48 L609.00,107.56 L609.73,107.66 L610.46,107.76 L611.20,107.88 L611.93,108.01 L612.67,108.15 L613.40,108.30 L614.13,108.47 L614.87,108.64 L615.60,108.83 L616.34,109.03 L617.07,109.24 L617.80,109.47 L618.54,109.70 L619.27,109.95 L620.01,110.22 L620.74,110.49 L621.47,110.78 L622.21,111.08 L622.94,111.39 L623.68,111.72 L624.41,112.06 L625.14,112.42 L625.88,112.79 L626.61,113.17 L627.35,113.57 L628.08,113.98 L628.81,114.41 L629.55,114.86 L630.28,115.32 L631.01,115.80 L631.75,116.29 L632.48,116.81 L633.22,117.34 L633.95,117.89 L634.68,118.45 L635.42,119.04 L636.15,119.65 L636.89,120.28 L637.62,120.92 L638.35,121.59 L639.09,122.28 L639.82,122.98 L640.56,123.71 L641.29,124.45 L642.02,125.21 L642.76,125.98 L643.49,126.77 L644.23,127.57 L644.96,128.38 L645.69,129.21 L646.43,130.04 L647.16,130.89 L647.89,131.74 L648.63,132.61 L649.36,133.48 L650.10,134.35 L650.83,135.24 L651.56,136.12 L652.30,137.01 L653.03,137.90 L653.77,138.80 L654.50,139.69 L655.23,140.59 L655.97,141.48 L656.70,142.38 L657.44,143.27 L658.17,144.15 L658.90,145.03 L659.64,145.91 L660.37,146.78 L661.13,147.40 L661.89,148.02 L662.65,148.65 L663.40,149.27 L664.16,149.90 L664.92,150.53 L665.68,151.16 L666.44,151.81 L667.20,152.50 L667.95,153.19 L668.71,153.89 L669.47,154.58 L670.23,155.25 L670.99,155.88 L671.74,156.46 L672.50,156.99 L673.26,157.45 L674.02,157.89 L674.78,158.32 L675.53,158.73 L676.29,159.12 L677.05,159.50 L677.81,159.85 L678.57,160.17 L679.33,160.47 L680.08,160.74 L680.84,160.98 L681.60,161.18" fill="none" stroke="#111111" stroke-width="2.0" stroke-linejoin="round" stroke-linecap="round"/>
<path d="M390.80,165.50 L391.62,165.20 L392.44,164.80 L393.26,164.35 L394.08,163.81 L394.90,163.16 L395.72,162.33 L396.54,161.20 L397.36,159.77 L398.18,158.06 L399.00,155.75 L399.81,152.90 L400.55,151.73 L401.28,150.57 L402.02,149.42 L402.75,148.28 L403.48,147.15 L404.22,146.03 L404.95,144.92 L405.69,143.82 L406.42,142.73 L407.15,141.66 L407.89,140.59 L408.62,139.53 L409.36,138.49 L410.09,137.46 L410.82,136.43 L411.56,135.42 L412.29,134.42 L413.03,133.44 L413.76,132.46 L414.49,131.49 L415.23,130.54 L415.96,129.60 L416.70,128.66 L417.43,127.74 L418.16,126.84 L418.90,125.94 L419.63,125.06 L420.37,124.19 L421.10,123.33 L421.83,122.48 L422.57,121.64 L423.30,120.82 L424.04,120.01 L424.77,119.21 L425.50,118.42 L426.24,117.65 L426.97,116.89 L427.71,116.14 L428.44,115.40 L429.17,114.68 L429.91,113.97 L430.64,113.27 L431.38,112.59 L432.11,111.92 L432.84,111.26 L433.58,110.61 L434.31,109.98 L435.05,109.36 L435.78,108.76 L436.51,108.17 L437.25,107.59 L437.98,107.02 L438.72,106.47 L439.45,105.94 L440.18,105.41 L440.92,104.90 L441.65,104.41 L442.39,103.93 L443.12,103.46 L443.85,103.01 L444.59,102.57 L445.32,102.14 L446.06,101.73 L446.79,101.34 L447.52,100.95 L448.26,100.59 L448.99,100.23 L449.73,99.90 L450.46,99.57 L451.19,99.26 L451.93,98.97 L452.66,98.69 L453.40,98.43 L454.13,98.18 L454.86,97.95 L455.60,97.73 L456.33,97.53 L457.07,97.34 L457.80,97.17 L458.53,97.01 L459.27,96.87 L460.00,96.74 L460.74,96.63 L461.47,96.54 L462.20,96.46 L462.94,96.40 L463.67,96.35 L464.41,96.32 L465.14,96.31 L465.87,96.31 L466.61,96.33 L467.34,96.36 L468.08,96.41 L468.81,96.48 L469.54,96.57 L470.28,96.67 L471.01,96.78 L471.75,96.92 L472.48,97.07 L473.21,97.23 L473.95,97.42 L474.68,97.62 L475.42,97.84 L476.15,98.07 L476.88,98.32 L477.62,98.59 L478.35,98.88 L479.09,99.19 L479.82,99.51 L480.55,99.85 L481.29,100.20 L482.02,100.58 L482.76,100.97 L483.49,101.38 L484.22,101.81 L484.96,102.25 L485.69,102.72 L486.43,103.20 L487.16,103.70 L487.89,104.22 L488.63,104.75 L489.36,105.30 L490.10,105.87 L490.83,106.45 L491.56,107.05 L492.30,107.67 L493.03,108.30 L493.77,108.95 L494.50,109.61 L495.23,110.28 L495.97,110.97 L496.70,111.67 L497.44,112.39 L498.17,113.11 L498.90,113.85 L499.64,114.61 L500.37,115.37 L501.11,116.14 L501.84,116.93 L502.57,117.73 L503.31,118.53 L504.04,119.35 L504.78,120.18 L505.51,121.01 L506.24,121.86 L506.98,122.71 L507.71,123.57 L508.45,124.44 L509.18,125.32 L509.91,126.21 L510.65,127.10 L511.38,128.00 L512.12,128.90 L512.85,129.81 L513.58,130.72 L514.32,131.65 L515.05,132.57 L515.79,133.50 L516.52,134.43 L517.25,135.37 L517.99,136.31 L518.72,137.26 L519.46,138.20 L520.19,139.15 L520.92,140.10 L521.66,141.05 L522.39,142.01 L523.13,142.96 L523.86,143.92 L524.59,144.87 L525.33,145.83 L526.06,146.78 L526.80,147.74 L527.53,148.69 L528.26,149.64 L529.00,150.59 L529.73,151.54 L530.47,152.49 L531.20,153.43 L531.93,154.37 L532.67,155.30 L533.40,156.23 L534.14,157.16 L534.87,158.08 L535.60,159.00 L536.34,159.91 L537.07,160.82 L537.81,159.74 L538.54,158.66 L539.27,157.56 L540.01,156.46 L540.74,155.36 L541.48,154.25 L542.21,153.13 L542.94,152.00 L543.68,150.88 L544.41,149.75 L545.15,148.61 L545.88,147.48 L546.61,146.34 L547.35,145.20 L548.08,144.06 L548.82,142.92 L549.55,141.78 L550.28,140.65 L551.02,139.51 L551.75,138.38 L552.48,137.25 L553.22,136.12 L553.95,135.00 L554.69,133.88 L555.42,132.77 L556.15,131.67 L556.89,130.57 L557.62,129.48 L558.36,128.39 L559.09,127.32 L559.82,126.25 L560.56,125.20 L561.29,124.15 L562.03,123.12 L562.76,122.10 L563.49,121.09 L564.23,120.09 L564.96,119.10 L565.70,118.13 L566.43,117.18 L567.16,116.24 L567.90,115.31 L568.63,114.40 L569.37,113.51 L570.10,112.64 L570.83,111.78 L571.57,110.94 L572.30,110.12 L573.03,109.32 L573.77,108.53 L574.50,107.77 L575.24,107.02 L575.97,106.29 L576.70,105.58 L577.44,104.89 L578.17,104.21 L578.91,103.56 L579.64,102.92 L580.37,102.31 L581.11,101.71 L581.84,101.13 L582.58,100.58 L583.31,100.04 L584.04,99.52 L584.78,99.02 L585.51,98.55 L586.25,98.09 L586.98,97.65 L587.71,97.24 L588.45,96.84 L589.18,96.47 L589.91,96.11 L590.65,95.78 L591.38,95.47 L592.12,95.18 L592.85,94.91 L593.58,94.67 L594.32,94.44 L595.05,94.24 L595.79,94.06 L596.52,93.90 L597.25,93.76 L597.99,93.63 L598.72,93.53 L599.46,93.44 L600.19,93.37 L600.92,93.31 L601.66,93.27 L602.39,93.24 L603.13,93.23 L603.86,93.22 L604.59,93.23 L605.33,93.25 L606.06,93.28 L606.80,93.32 L607.53,93.36 L608.26,93.42 L609.00,93.49 L609.73,93.57 L610.46,93.67 L611.20,93.77 L611.93,93.89 L612.67,94.02 L613.40,94.16 L614.13,94.32 L614.87,94.49 L615.60,94.67 L616.34,94.87 L617.07,95.08 L617.80,95.31 L618.54,95.56 L619.27,95.82 L620.01,96.09 L620.74,96.39 L621.47,96.69 L622.21,97.02 L622.94,97.37 L623.68,97.73 L624.41,98.11 L625.14,98.51 L625.88,98.93 L626.61,99.37 L627.35,99.82 L628.08,100.30 L628.81,100.80 L629.55,101.32 L630.28,101.86 L631.01,102.42 L631.75,103.01 L632.48,103.61 L633.22,104.24 L633.95,104.89 L634.68,105.57 L635.42,106.26 L636.15,106.99 L636.89,107.73 L637.62,108.50 L638.35,109.30 L639.09,110.12 L639.82,110.96 L640.56,111.83 L641.29,112.73 L642.02,113.65 L642.76,114.59 L643.49,115.56 L644.23,116.56 L644.96,117.58 L645.69,118.63 L646.43,119.71 L647.16,120.81 L647.89,121.94 L648.63,123.09 L649.36,124.27 L650.10,125.48 L650.83,126.72 L651.56,127.98 L652.30,129.27 L653.03,130.59 L653.77,131.94 L654.50,133.31 L655.23,134.71 L655.97,136.15 L656.70,137.61 L657.44,139.09 L658.17,140.61 L658.90,142.16 L659.64,143.74 L660.37,145.34 L661.13,146.25 L661.89,147.13 L662.65,148.00 L663.40,148.84 L664.16,149.65 L664.92,150.43 L665.68,151.17 L666.44,151.90 L667.20,152.63 L667.95,153.35 L668.71,154.05 L669.47,154.72 L670.23,155.37 L670.99,155.96 L671.74,156.51 L672.50,157.00 L673.26,157.43 L674.02,157.85 L674.78,158.25 L675.53,158.64 L676.29,159.01 L677.05,159.35 L677.81,159.68 L678.57,159.97 L679.33,160.24 L680.08,160.47 L680.84,160.66 L681.60,160.82" fill="none" stroke="#18f0f0" stroke-width="2.0" stroke-linejoin="round" stroke-linecap="round"/>
<path d="M390.80,165.50 L391.59,165.31 L392.39,164.79 L393.18,164.02 L393.97,163.08 L394.77,162.04 L395.56,160.65 L396.35,158.64 L397.14,156.39 L397.94,154.31 L398.73,152.34 L399.52,150.38 L400.26,149.10 L400.99,147.82 L401.72,146.55 L402.45,145.28 L403.18,144.02 L403.91,142.76 L404.65,141.50 L405.38,140.25 L406.11,139.01 L406.84,137.77 L407.57,136.54 L408.30,135.32 L409.04,134.10 L409.77,132.89 L410.50,131.68 L411.23,130.48 L411.96,129.29 L412.69,128.11 L413.43,126.93 L414.16,125.76 L414.89,124.60 L415.62,123.45 L416.35,122.31 L417.08,121.17 L417.82,120.05 L418.55,118.93 L419.28,117.83 L420.01,116.73 L420.74,115.64 L421.47,114.57 L422.20,113.50 L422.94,112.45 L423.67,111.40 L424.40,110.37 L425.13,109.35 L425.86,108.34 L426.59,107.34 L427.33,106.35 L428.06,105.38 L428.79,104.41 L429.52,103.46 L430.25,102.53 L430.98,101.60 L431.72,100.69 L432.45,99.79 L433.18,98.91 L433.91,98.04 L434.64,97.18 L435.37,96.34 L436.11,95.52 L436.84,94.70 L437.57,93.91 L438.30,93.13 L439.03,92.36 L439.76,91.61 L440.50,90.87 L441.23,90.16 L441.96,89.45 L442.69,88.77 L443.42,88.10 L444.15,87.45 L444.89,86.81 L445.62,86.20 L446.35,85.60 L447.08,85.02 L447.81,84.45 L448.54,83.91 L449.28,83.38 L450.01,82.88 L450.74,82.39 L451.47,81.92 L452.20,81.47 L452.93,81.04 L453.67,80.63 L454.40,80.24 L455.13,79.87 L455.86,79.52 L456.59,79.19 L457.32,78.89 L458.06,78.60 L458.79,78.34 L459.52,78.09 L460.25,77.87 L460.98,77.67 L461.71,77.50 L462.45,77.34 L463.18,77.21 L463.91,77.10 L464.64,77.02 L465.37,76.96 L466.10,76.92 L466.83,76.90 L467.57,76.92 L468.30,76.95 L469.03,77.01 L469.76,77.09 L470.49,77.20 L471.22,77.34 L471.96,77.50 L472.69,77.68 L473.42,77.89 L474.15,78.13 L474.88,78.39 L475.61,78.68 L476.35,79.00 L477.08,79.34 L477.81,79.71 L478.54,80.11 L479.27,80.54 L480.00,80.99 L480.74,81.48 L481.47,81.99 L482.20,82.53 L482.93,83.09 L483.66,83.69 L484.39,84.32 L485.13,84.97 L485.86,85.66 L486.59,86.37 L487.32,87.11 L488.05,87.88 L488.78,88.68 L489.52,89.49 L490.25,90.32 L490.98,91.16 L491.71,92.02 L492.44,92.88 L493.17,93.75 L493.91,94.63 L494.64,95.50 L495.37,96.37 L496.10,97.24 L496.83,98.10 L497.56,98.95 L498.30,99.79 L499.03,100.61 L499.76,101.42 L500.49,102.22 L501.22,103.04 L501.95,103.88 L502.69,104.77 L503.42,105.72 L504.15,106.75 L504.88,107.85 L505.61,109.03 L506.34,110.26 L507.08,111.54 L507.81,112.86 L508.54,114.20 L509.27,115.55 L510.00,116.90 L510.73,118.24 L511.46,119.56 L512.20,120.84 L512.93,122.08 L513.66,123.26 L514.39,124.40 L515.12,125.50 L515.85,126.56 L516.59,127.60 L517.32,128.61 L518.05,129.60 L518.78,130.59 L519.51,131.56 L520.24,132.54 L520.98,133.51 L521.71,134.50 L522.44,135.51 L523.17,136.54 L523.90,137.59 L524.63,138.68 L525.37,139.80 L526.10,140.97 L526.83,142.19 L527.56,143.46 L528.29,144.76 L529.02,146.10 L529.76,147.46 L530.49,148.84 L531.22,150.22 L531.95,151.62 L532.68,153.00 L533.41,154.38 L534.15,155.73 L534.88,157.06 L535.61,158.36 L536.34,159.61 L537.07,160.82 L537.81,159.19 L538.54,157.58 L539.27,155.99 L540.01,154.41 L540.74,152.84 L541.48,151.29 L542.21,149.75 L542.94,148.23 L543.68,146.72 L544.41,145.22 L545.15,143.74 L545.88,142.27 L546.61,140.82 L547.35,139.37 L548.08,137.94 L548.82,136.52 L549.55,135.12 L550.28,133.72 L551.02,132.34 L551.75,130.97 L552.48,129.60 L553.22,128.25 L553.95,126.91 L554.69,125.58 L555.42,124.26 L556.15,122.95 L556.89,121.65 L557.62,120.36 L558.36,119.08 L559.09,117.81 L559.82,116.55 L560.56,115.29 L561.29,114.05 L562.03,112.81 L562.76,111.58 L563.49,110.35 L564.23,109.14 L564.96,107.93 L565.70,106.72 L566.43,105.53 L567.16,104.34 L567.90,103.17 L568.63,102.00 L569.37,100.84 L570.10,99.69 L570.83,98.56 L571.57,97.44 L572.30,96.33 L573.03,95.24 L573.77,94.16 L574.50,93.10 L575.24,92.05 L575.97,91.02 L576.70,90.02 L577.44,89.03 L578.17,88.06 L578.91,87.11 L579.64,86.18 L580.37,85.28 L581.11,84.40 L581.84,83.54 L582.58,82.71 L583.31,81.90 L584.04,81.12 L584.78,80.37 L585.51,79.65 L586.25,78.95 L586.98,78.29 L587.71,77.66 L588.45,77.05 L589.18,76.48 L589.91,75.95 L590.65,75.44 L591.38,74.97 L592.12,74.54 L592.85,74.14 L593.58,73.78 L594.32,73.46 L595.05,73.18 L595.79,72.93 L596.52,72.72 L597.25,72.54 L597.99,72.40 L598.72,72.29 L599.46,72.22 L600.19,72.17 L600.92,72.15 L601.66,72.16 L602.39,72.19 L603.13,72.25 L603.86,72.33 L604.59,72.44 L605.33,72.56 L606.06,72.71 L606.80,72.87 L607.53,73.05 L608.26,73.25 L609.00,73.46 L609.73,73.68 L610.46,73.92 L611.20,74.16 L611.93,74.42 L612.67,74.69 L613.40,74.96 L614.13,75.24 L614.87,75.53 L615.60,75.84 L616.34,76.15 L617.07,76.49 L617.80,76.83 L618.54,77.20 L619.27,77.58 L620.01,77.99 L620.74,78.41 L621.47,78.86 L622.21,79.33 L622.94,79.83 L623.68,80.35 L624.41,80.91 L625.14,81.49 L625.88,82.10 L626.61,82.74 L627.35,83.42 L628.08,84.13 L628.81,84.88 L629.55,85.66 L630.28,86.49 L631.01,87.35 L631.75,88.26 L632.48,89.20 L633.22,90.20 L633.95,91.23 L634.68,92.32 L635.42,93.45 L636.15,94.63 L636.89,95.86 L637.62,97.12 L638.35,98.43 L639.09,99.78 L639.82,101.17 L640.56,102.58 L641.29,104.03 L642.02,105.51 L642.76,107.02 L643.49,108.55 L644.23,110.10 L644.96,111.68 L645.69,113.27 L646.43,114.88 L647.16,116.50 L647.89,118.13 L648.63,119.77 L649.36,121.42 L650.10,123.07 L650.83,124.72 L651.56,126.37 L652.30,128.02 L653.03,129.67 L653.77,131.30 L654.50,132.93 L655.23,134.55 L655.97,136.15 L656.70,137.74 L657.44,139.30 L658.17,140.85 L658.90,142.37 L659.64,143.87 L660.37,145.34 L661.13,146.09 L661.89,146.83 L662.65,147.57 L663.40,148.30 L664.16,149.03 L664.92,149.74 L665.68,150.45 L666.44,151.17 L667.20,151.92 L667.95,152.68 L668.71,153.43 L669.47,154.16 L670.23,154.87 L670.99,155.52 L671.74,156.12 L672.50,156.64 L673.26,157.08 L674.02,157.50 L674.78,157.91 L675.53,158.31 L676.29,158.68 L677.05,159.03 L677.81,159.36 L678.57,159.65 L679.33,159.92 L680.08,160.14 L680.84,160.32 L681.60,160.46" fill="none" stroke="#e81ce8" stroke-width="2.0" stroke-linejoin="round" stroke-linecap="round"/>
<path d="M390.80,165.50 L391.59,165.30 L392.39,164.74 L393.18,163.90 L393.97,162.87 L394.77,161.70 L395.56,160.08 L396.35,157.63 L397.14,154.79 L397.94,151.99 L398.73,149.12 L399.52,146.06 L400.26,144.68 L400.99,143.20 L401.72,141.62 L402.46,139.95 L403.19,138.21 L403.92,136.41 L404.66,134.56 L405.39,132.66 L406.12,130.73 L406.86,128.78 L407.59,126.83 L408.32,124.87 L409.06,122.93 L409.79,121.01 L410.52,119.12 L411.25,117.25 L411.99,115.40 L412.72,113.58 L413.45,111.78 L414.19,110.01 L414.92,108.25 L415.65,106.53 L416.39,104.82 L417.12,103.14 L417.85,101.48 L418.59,99.84 L419.32,98.23 L420.05,96.64 L420.79,95.07 L421.52,93.52 L422.25,91.99 L422.99,90.49 L423.72,89.01 L424.45,87.54 L425.19,86.10 L425.92,84.68 L426.65,83.28 L427.39,81.91 L428.12,80.55 L428.85,79.21 L429.58,77.89 L430.32,76.59 L431.05,75.31 L431.78,74.05 L432.52,72.81 L433.25,71.59 L433.98,70.39 L434.72,69.20 L435.45,68.04 L436.18,66.89 L436.92,65.77 L437.65,64.66 L438.38,63.57 L439.12,62.51 L439.85,61.46 L440.58,60.43 L441.32,59.43 L442.05,58.44 L442.78,57.48 L443.52,56.54 L444.25,55.62 L444.98,54.73 L445.71,53.85 L446.45,53.00 L447.18,52.18 L447.91,51.37 L448.65,50.59 L449.38,49.84 L450.11,49.10 L450.85,48.40 L451.58,47.72 L452.31,47.06 L453.05,46.43 L453.78,45.82 L454.51,45.24 L455.25,44.69 L455.98,44.16 L456.71,43.66 L457.45,43.19 L458.18,42.74 L458.91,42.32 L459.65,41.93 L460.38,41.57 L461.11,41.24 L461.84,40.93 L462.58,40.66 L463.31,40.41 L464.04,40.19 L464.78,40.01 L465.51,39.85 L466.24,39.73 L466.98,39.63 L467.71,39.57 L468.44,39.53 L469.18,39.53 L469.91,39.56 L470.64,39.62 L471.38,39.72 L472.11,39.85 L472.84,40.01 L473.58,40.20 L474.31,40.43 L475.04,40.69 L475.78,40.98 L476.51,41.31 L477.24,41.68 L477.98,42.07 L478.71,42.50 L479.44,42.97 L480.17,43.47 L480.91,44.00 L481.64,44.56 L482.37,45.16 L483.11,45.79 L483.84,46.46 L484.57,47.16 L485.31,47.89 L486.04,48.66 L486.77,49.45 L487.51,50.28 L488.24,51.15 L488.97,52.04 L489.71,52.97 L490.44,53.93 L491.17,54.93 L491.91,55.95 L492.64,57.01 L493.37,58.10 L494.11,59.23 L494.84,60.38 L495.57,61.57 L496.30,62.79 L497.04,64.04 L497.77,65.33 L498.50,66.64 L499.24,67.99 L499.97,69.37 L500.70,70.78 L501.44,72.22 L502.17,73.69 L502.90,75.19 L503.64,76.73 L504.37,78.29 L505.10,79.89 L505.84,81.52 L506.57,83.18 L507.30,84.87 L508.04,86.59 L508.77,88.34 L509.50,90.12 L510.24,91.92 L510.97,93.74 L511.70,95.59 L512.43,97.46 L513.17,99.35 L513.90,101.25 L514.63,103.17 L515.37,105.11 L516.10,107.05 L516.83,109.01 L517.57,110.98 L518.30,112.95 L519.03,114.93 L519.77,116.91 L520.50,118.90 L521.23,120.89 L521.97,122.87 L522.70,124.86 L523.43,126.84 L524.17,128.81 L524.90,130.78 L525.63,132.74 L526.37,134.68 L527.10,136.62 L527.83,138.54 L528.56,140.44 L529.30,142.33 L530.03,144.20 L530.76,146.05 L531.50,147.89 L532.23,149.70 L532.96,151.51 L533.70,153.31 L534.43,155.10 L535.16,156.88 L535.90,158.67 L536.63,160.46 L537.36,162.26 L538.10,158.33 L538.83,154.73 L539.56,151.44 L540.30,148.41 L541.03,145.64 L541.76,143.09 L542.49,140.74 L543.23,138.57 L543.96,136.53 L544.69,134.62 L545.43,132.80 L546.16,131.05 L546.89,129.34 L547.63,127.65 L548.36,125.94 L549.09,124.20 L549.82,122.40 L550.56,120.53 L551.29,118.60 L552.02,116.63 L552.76,114.64 L553.49,112.65 L554.22,110.66 L554.96,108.67 L555.69,106.68 L556.42,104.69 L557.15,102.71 L557.89,100.74 L558.62,98.77 L559.35,96.81 L560.09,94.86 L560.82,92.93 L561.55,91.00 L562.29,89.09 L563.02,87.19 L563.75,85.31 L564.49,83.45 L565.22,81.61 L565.95,79.78 L566.68,77.98 L567.42,76.20 L568.15,74.44 L568.88,72.71 L569.62,71.00 L570.35,69.32 L571.08,67.67 L571.82,66.05 L572.55,64.46 L573.28,62.91 L574.01,61.38 L574.75,59.90 L575.48,58.44 L576.21,57.03 L576.95,55.65 L577.68,54.32 L578.41,53.02 L579.15,51.77 L579.88,50.56 L580.61,49.38 L581.34,48.25 L582.08,47.15 L582.81,46.10 L583.54,45.08 L584.28,44.10 L585.01,43.16 L585.74,42.26 L586.48,41.39 L587.21,40.56 L587.94,39.77 L588.67,39.01 L589.41,38.30 L590.14,37.61 L590.87,36.97 L591.61,36.35 L592.34,35.78 L593.07,35.23 L593.81,34.73 L594.54,34.25 L595.27,33.81 L596.00,33.41 L596.74,33.04 L597.47,32.70 L598.20,32.39 L598.94,32.11 L599.67,31.87 L600.40,31.66 L601.14,31.48 L601.87,31.33 L602.60,31.22 L603.34,31.13 L604.07,31.07 L604.80,31.04 L605.53,31.05 L606.27,31.08 L607.00,31.14 L607.73,31.23 L608.47,31.35 L609.20,31.49 L609.93,31.67 L610.67,31.87 L611.40,32.10 L612.13,32.37 L612.86,32.66 L613.60,32.98 L614.33,33.34 L615.06,33.73 L615.80,34.15 L616.53,34.60 L617.26,35.09 L618.00,35.62 L618.73,36.18 L619.46,36.77 L620.19,37.40 L620.93,38.07 L621.66,38.78 L622.39,39.52 L623.13,40.31 L623.86,41.13 L624.59,41.99 L625.33,42.90 L626.06,43.84 L626.79,44.83 L627.52,45.86 L628.26,46.93 L628.99,48.05 L629.72,49.21 L630.46,50.42 L631.19,51.67 L631.92,52.97 L632.66,54.31 L633.39,55.70 L634.12,57.14 L634.86,58.63 L635.59,60.17 L636.32,61.75 L637.05,63.39 L637.79,65.08 L638.52,66.82 L639.25,68.61 L639.99,70.45 L640.72,72.35 L641.45,74.30 L642.19,76.30 L642.92,78.32 L643.65,80.34 L644.38,82.34 L645.12,84.30 L645.85,86.21 L646.58,88.09 L647.32,89.98 L648.05,91.89 L648.78,93.86 L649.52,95.91 L650.25,98.06 L650.98,100.30 L651.71,102.64 L652.45,105.07 L653.18,107.59 L653.91,110.22 L654.65,112.94 L655.38,115.75 L656.11,118.66 L656.85,121.67 L657.58,124.77 L658.31,127.97 L659.04,131.27 L659.78,134.66 L660.51,138.15 L661.24,141.74 L662.03,143.55 L662.81,145.33 L663.59,147.03 L664.38,148.65 L665.16,150.17 L665.94,151.55 L666.72,152.78 L667.51,153.84 L668.29,154.73 L669.07,155.59 L669.86,156.44 L670.64,157.26 L671.42,158.05 L672.20,158.80 L672.99,159.49 L673.77,160.11 L674.55,160.66 L675.34,161.13 L676.12,161.49 L676.90,161.74 L677.69,161.88 L678.47,161.87 L679.25,161.66 L680.03,161.26 L680.82,160.73 L681.60,160.10" fill="none" stroke="#18ee18" stroke-width="2.0" stroke-linejoin="round" stroke-linecap="round"/>
<rect x="390.8" y="21.5" width="290.80" height="144.00" fill="none" stroke="#cacaca" stroke-width="1"/>
<line x1="419.88" y1="165.5" x2="419.88" y2="163.0" stroke="#cacaca" stroke-width="1"/>
<line x1="419.88" y1="21.5" x2="419.88" y2="24.0" stroke="#cacaca" stroke-width="1"/>
<line x1="448.96" y1="165.5" x2="448.96" y2="163.0" stroke="#cacaca" stroke-width="1"/>
<line x1="448.96" y1="21.5" x2="448.96" y2="24.0" stroke="#cacaca" stroke-width="1"/>
<line x1="478.04" y1="165.5" x2="478.04" y2="163.0" stroke="#cacaca" stroke-width="1"/>
<line x1="478.04" y1="21.5" x2="478.04" y2="24.0" stroke="#cacaca" stroke-width="1"/>
<line x1="507.12" y1="165.5" x2="507.12" y2="163.0" stroke="#cacaca" stroke-width="1"/>
<line x1="507.12" y1="21.5" x2="507.12" y2="24.0" stroke="#cacaca" stroke-width="1"/>
<line x1="536.20" y1="165.5" x2="536.20" y2="163.0" stroke="#cacaca" stroke-width="1"/>
<line x1="536.20" y1="21.5" x2="536.20" y2="24.0" stroke="#cacaca" stroke-width="1"/>
<line x1="565.28" y1="165.5" x2="565.28" y2="163.0" stroke="#cacaca" stroke-width="1"/>
<line x1="565.28" y1="21.5" x2="565.28" y2="24.0" stroke="#cacaca" stroke-width="1"/>
<line x1="594.36" y1="165.5" x2="594.36" y2="163.0" stroke="#cacaca" stroke-width="1"/>
<line x1="594.36" y1="21.5" x2="594.36" y2="24.0" stroke="#cacaca" stroke-width="1"/>
<line x1="623.44" y1="165.5" x2="623.44" y2="163.0" stroke="#cacaca" stroke-width="1"/>
<line x1="623.44" y1="21.5" x2="623.44" y2="24.0" stroke="#cacaca" stroke-width="1"/>
<line x1="652.52" y1="165.5" x2="652.52" y2="163.0" stroke="#cacaca" stroke-width="1"/>
<line x1="652.52" y1="21.5" x2="652.52" y2="24.0" stroke="#cacaca" stroke-width="1"/>
<line x1="390.8" y1="151.10" x2="393.3" y2="151.10" stroke="#cacaca" stroke-width="1"/>
<line x1="681.6" y1="151.10" x2="679.1" y2="151.10" stroke="#cacaca" stroke-width="1"/>
<line x1="390.8" y1="136.70" x2="393.3" y2="136.70" stroke="#cacaca" stroke-width="1"/>
<line x1="681.6" y1="136.70" x2="679.1" y2="136.70" stroke="#cacaca" stroke-width="1"/>
<line x1="390.8" y1="122.30" x2="393.3" y2="122.30" stroke="#cacaca" stroke-width="1"/>
<line x1="681.6" y1="122.30" x2="679.1" y2="122.30" stroke="#cacaca" stroke-width="1"/>
<line x1="390.8" y1="107.90" x2="393.3" y2="107.90" stroke="#cacaca" stroke-width="1"/>
<line x1="681.6" y1="107.90" x2="679.1" y2="107.90" stroke="#cacaca" stroke-width="1"/>
<line x1="390.8" y1="93.50" x2="393.3" y2="93.50" stroke="#cacaca" stroke-width="1"/>
<line x1="681.6" y1="93.50" x2="679.1" y2="93.50" stroke="#cacaca" stroke-width="1"/>
<line x1="390.8" y1="79.10" x2="393.3" y2="79.10" stroke="#cacaca" stroke-width="1"/>
<line x1="681.6" y1="79.10" x2="679.1" y2="79.10" stroke="#cacaca" stroke-width="1"/>
<line x1="390.8" y1="64.70" x2="393.3" y2="64.70" stroke="#cacaca" stroke-width="1"/>
<line x1="681.6" y1="64.70" x2="679.1" y2="64.70" stroke="#cacaca" stroke-width="1"/>
<line x1="390.8" y1="50.30" x2="393.3" y2="50.30" stroke="#cacaca" stroke-width="1"/>
<line x1="681.6" y1="50.30" x2="679.1" y2="50.30" stroke="#cacaca" stroke-width="1"/>
<line x1="390.8" y1="35.90" x2="393.3" y2="35.90" stroke="#cacaca" stroke-width="1"/>
<line x1="681.6" y1="35.90" x2="679.1" y2="35.90" stroke="#cacaca" stroke-width="1"/>
<g font-size="10" fill="#3a3a3a" stroke="#3a3a3a" stroke-width="0.3">
<text transform="translate(390.80,179.5) scale(1.05,1)" text-anchor="middle">0</text>
<text transform="translate(419.88,179.5) scale(1.05,1)" text-anchor="middle">0.1</text>
<text transform="translate(448.96,179.5) scale(1.05,1)" text-anchor="middle">0.2</text>
<text transform="translate(478.04,179.5) scale(1.05,1)" text-anchor="middle">0.3</text>
<text transform="translate(507.12,179.5) scale(1.05,1)" text-anchor="middle">0.4</text>
<text transform="translate(536.20,179.5) scale(1.05,1)" text-anchor="middle">0.5</text>
<text transform="translate(565.28,179.5) scale(1.05,1)" text-anchor="middle">0.6</text>
<text transform="translate(594.36,179.5) scale(1.05,1)" text-anchor="middle">0.7</text>
<text transform="translate(623.44,179.5) scale(1.05,1)" text-anchor="middle">0.8</text>
<text transform="translate(652.52,179.5) scale(1.05,1)" text-anchor="middle">0.9</text>
<text transform="translate(681.60,179.5) scale(1.05,1)" text-anchor="middle">1</text>
<text transform="translate(387.8,169.90) scale(1.05,1)" text-anchor="end">0</text>
<text transform="translate(387.8,155.50) scale(1.05,1)" text-anchor="end">2</text>
<text transform="translate(387.8,141.10) scale(1.05,1)" text-anchor="end">4</text>
<text transform="translate(387.8,126.70) scale(1.05,1)" text-anchor="end">6</text>
<text transform="translate(387.8,112.30) scale(1.05,1)" text-anchor="end">8</text>
<text transform="translate(387.8,97.90) scale(1.05,1)" text-anchor="end">10</text>
<text transform="translate(387.8,83.50) scale(1.05,1)" text-anchor="end">12</text>
<text transform="translate(387.8,69.10) scale(1.05,1)" text-anchor="end">14</text>
<text transform="translate(387.8,54.70) scale(1.05,1)" text-anchor="end">16</text>
<text transform="translate(387.8,40.30) scale(1.05,1)" text-anchor="end">18</text>
<text transform="translate(387.8,25.90) scale(1.05,1)" text-anchor="end">20</text>
</g>
<line x1="245.17" y1="210.9" x2="245.17" y2="364.1" stroke="#f6f6f6" stroke-width="1.2"/>
<line x1="276.04" y1="210.9" x2="276.04" y2="364.1" stroke="#f6f6f6" stroke-width="1.2"/>
<line x1="306.91" y1="210.9" x2="306.91" y2="364.1" stroke="#f6f6f6" stroke-width="1.2"/>
<line x1="337.78" y1="210.9" x2="337.78" y2="364.1" stroke="#f6f6f6" stroke-width="1.2"/>
<line x1="368.65" y1="210.9" x2="368.65" y2="364.1" stroke="#f6f6f6" stroke-width="1.2"/>
<line x1="399.52" y1="210.9" x2="399.52" y2="364.1" stroke="#f6f6f6" stroke-width="1.2"/>
<line x1="430.39" y1="210.9" x2="430.39" y2="364.1" stroke="#f6f6f6" stroke-width="1.2"/>
<line x1="461.26" y1="210.9" x2="461.26" y2="364.1" stroke="#f6f6f6" stroke-width="1.2"/>
<line x1="492.13" y1="210.9" x2="492.13" y2="364.1" stroke="#f6f6f6" stroke-width="1.2"/>
<line x1="214.3" y1="338.57" x2="523.0" y2="338.57" stroke="#f6f6f6" stroke-width="1.2"/>
<line x1="214.3" y1="313.03" x2="523.0" y2="313.03" stroke="#f6f6f6" stroke-width="1.2"/>
<line x1="214.3" y1="287.50" x2="523.0" y2="287.50" stroke="#f6f6f6" stroke-width="1.2"/>
<line x1="214.3" y1="261.97" x2="523.0" y2="261.97" stroke="#f6f6f6" stroke-width="1.2"/>
<line x1="214.3" y1="236.43" x2="523.0" y2="236.43" stroke="#f6f6f6" stroke-width="1.2"/>
<path d="M217.39,362.57 L218.18,361.86 L218.97,361.06 L219.77,360.19 L220.56,359.26 L221.36,358.26 L222.15,357.14 L222.94,355.93 L223.72,355.45 L224.50,354.96 L225.27,354.47 L226.05,353.97 L226.82,353.47 L227.60,352.96 L228.37,352.45 L229.15,351.93 L229.93,351.41 L230.70,350.88 L231.48,350.35 L232.25,349.82 L233.03,349.28 L233.81,348.74 L234.58,348.19 L235.36,347.64 L236.13,347.09 L236.91,346.54 L237.68,345.98 L238.46,345.42 L239.24,344.86 L240.01,344.29 L240.79,343.72 L241.56,343.15 L242.34,342.58 L243.12,342.01 L243.89,341.43 L244.67,340.86 L245.44,340.28 L246.22,339.70 L246.99,339.12 L247.77,338.54 L248.55,337.96 L249.32,337.37 L250.10,336.79 L250.87,336.21 L251.65,335.62 L252.43,335.04 L253.20,334.46 L253.98,333.88 L254.75,333.29 L255.53,332.71 L256.30,332.13 L257.08,331.55 L257.86,330.97 L258.63,330.40 L259.41,329.82 L260.18,329.24 L260.96,328.67 L261.74,328.10 L262.51,327.53 L263.29,326.97 L264.06,326.40 L264.84,325.84 L265.61,325.28 L266.39,324.73 L267.17,324.17 L267.94,323.62 L268.72,323.08 L269.49,322.53 L270.27,321.99 L271.05,321.46 L271.82,320.92 L272.60,320.40 L273.37,319.87 L274.15,319.35 L274.92,318.84 L275.70,318.33 L276.48,317.82 L277.25,317.32 L278.03,316.83 L278.80,316.34 L279.58,315.85 L280.36,315.37 L281.13,314.90 L281.91,314.43 L282.68,313.97 L283.46,313.52 L284.23,313.07 L285.01,312.63 L285.79,312.19 L286.56,311.76 L287.34,311.34 L288.11,310.92 L288.89,310.52 L289.67,310.12 L290.44,309.73 L291.22,309.34 L291.99,308.96 L292.77,308.60 L293.54,308.24 L294.32,307.88 L295.10,307.54 L295.87,307.21 L296.65,306.88 L297.42,306.56 L298.20,306.26 L298.98,305.96 L299.75,305.67 L300.53,305.39 L301.30,305.12 L302.08,304.86 L302.85,304.61 L303.63,304.37 L304.41,304.14 L305.18,303.92 L305.96,303.71 L306.73,303.52 L307.51,303.33 L308.29,303.16 L309.06,302.99 L309.84,302.84 L310.61,302.70 L311.39,302.57 L312.16,302.46 L312.94,302.35 L313.72,302.26 L314.49,302.18 L315.27,302.11 L316.04,302.06 L316.82,302.01 L317.60,301.99 L318.37,301.97 L319.15,301.97 L319.92,301.98 L320.70,302.00 L321.47,302.04 L322.25,302.09 L323.03,302.16 L323.80,302.23 L324.58,302.32 L325.35,302.43 L326.13,302.54 L326.91,302.67 L327.68,302.80 L328.46,302.95 L329.23,303.11 L330.01,303.28 L330.78,303.46 L331.56,303.65 L332.34,303.85 L333.11,304.06 L333.89,304.28 L334.66,304.51 L335.44,304.75 L336.22,304.99 L336.99,305.25 L337.77,305.51 L338.54,305.77 L339.32,306.05 L340.09,306.33 L340.87,306.62 L341.65,306.92 L342.42,307.22 L343.20,307.53 L343.97,307.84 L344.75,308.16 L345.53,308.49 L346.30,308.81 L347.08,309.15 L347.85,309.48 L348.63,309.83 L349.40,310.17 L350.18,310.52 L350.96,310.87 L351.73,311.23 L352.51,311.58 L353.28,311.94 L354.06,312.30 L354.84,312.67 L355.61,313.03 L356.39,313.40 L357.16,313.76 L357.94,314.13 L358.71,314.50 L359.49,314.87 L360.27,315.23 L361.04,315.60 L361.82,315.97 L362.59,316.33 L363.37,316.69 L364.15,317.06 L364.92,317.42 L365.70,317.78 L366.47,318.13 L367.25,318.48 L368.02,318.83 L368.80,319.18 L369.58,319.52 L370.35,319.09 L371.13,318.66 L371.91,318.22 L372.69,317.77 L373.47,317.32 L374.24,316.86 L375.02,316.40 L375.80,315.94 L376.58,315.47 L377.36,315.01 L378.13,314.54 L378.91,314.07 L379.69,313.60 L380.47,313.12 L381.25,312.65 L382.03,312.19 L382.80,311.72 L383.58,311.25 L384.36,310.79 L385.14,310.33 L385.92,309.88 L386.69,309.43 L387.47,308.98 L388.25,308.55 L389.03,308.11 L389.81,307.69 L390.58,307.27 L391.36,306.86 L392.14,306.46 L392.92,306.07 L393.70,305.69 L394.47,305.31 L395.25,304.95 L396.03,304.60 L396.81,304.27 L397.59,303.94 L398.36,303.63 L399.14,303.33 L399.92,303.05 L400.70,302.78 L401.48,302.52 L402.25,302.28 L403.03,302.05 L403.81,301.84 L404.59,301.64 L405.37,301.46 L406.15,301.29 L406.92,301.13 L407.70,300.99 L408.48,300.86 L409.26,300.74 L410.04,300.64 L410.81,300.55 L411.59,300.47 L412.37,300.41 L413.15,300.36 L413.93,300.32 L414.70,300.29 L415.48,300.28 L416.26,300.28 L417.04,300.29 L417.82,300.31 L418.59,300.35 L419.37,300.40 L420.15,300.46 L420.93,300.53 L421.71,300.61 L422.48,300.71 L423.26,300.82 L424.04,300.94 L424.82,301.06 L425.60,301.21 L426.38,301.36 L427.15,301.52 L427.93,301.69 L428.71,301.88 L429.49,302.08 L430.27,302.28 L431.04,302.50 L431.82,302.73 L432.60,302.96 L433.38,303.21 L434.16,303.47 L434.93,303.74 L435.71,304.01 L436.49,304.30 L437.27,304.60 L438.05,304.90 L438.82,305.22 L439.60,305.55 L440.38,305.88 L441.16,306.23 L441.94,306.58 L442.71,306.94 L443.49,307.31 L444.27,307.69 L445.05,308.08 L445.83,308.48 L446.60,308.88 L447.38,309.30 L448.16,309.72 L448.94,310.15 L449.72,310.59 L450.50,311.03 L451.27,311.49 L452.05,311.95 L452.83,312.42 L453.61,312.90 L454.39,313.38 L455.16,313.87 L455.94,314.37 L456.72,314.88 L457.50,315.39 L458.28,315.91 L459.05,316.44 L459.83,316.97 L460.61,317.51 L461.39,318.05 L462.17,318.60 L462.94,319.16 L463.72,319.72 L464.50,320.29 L465.28,320.86 L466.06,321.44 L466.83,322.02 L467.61,322.60 L468.39,323.19 L469.17,323.79 L469.95,324.39 L470.72,324.99 L471.50,325.60 L472.28,326.21 L473.06,326.82 L473.84,327.44 L474.62,328.05 L475.39,328.68 L476.17,329.30 L476.95,329.93 L477.73,330.56 L478.51,331.19 L479.28,331.82 L480.06,332.46 L480.84,333.09 L481.62,333.73 L482.40,334.37 L483.17,335.01 L483.95,335.65 L484.73,336.29 L485.51,336.93 L486.29,337.58 L487.06,338.22 L487.84,338.86 L488.62,339.50 L489.40,340.14 L490.18,340.78 L490.95,341.43 L491.73,342.06 L492.51,342.70 L493.29,343.34 L494.07,343.98 L494.85,344.61 L495.62,345.24 L496.40,345.87 L497.18,346.50 L497.96,347.13 L498.74,347.75 L499.51,348.37 L500.29,348.99 L501.07,349.60 L501.85,350.21 L502.63,350.82 L503.45,351.29 L504.28,351.75 L505.11,352.21 L505.94,352.67 L506.77,353.13 L507.59,353.58 L508.42,354.03 L509.25,354.48 L510.08,354.93 L510.90,355.37 L511.73,355.82 L512.56,356.26 L513.39,356.69 L514.22,357.13 L515.04,357.56 L515.87,357.99 L516.70,358.42 L517.53,358.84 L518.36,359.27 L519.18,359.69 L520.01,360.11 L520.84,360.53" fill="none" stroke="#f01818" stroke-width="2.0" stroke-linejoin="round" stroke-linecap="round"/>
<path d="M217.39,362.57 L218.18,361.69 L218.97,360.76 L219.77,359.78 L220.56,358.77 L221.36,357.71 L222.15,356.59 L222.94,355.42 L223.72,354.83 L224.50,354.24 L225.27,353.65 L226.05,353.05 L226.82,352.44 L227.60,351.83 L228.37,351.22 L229.15,350.60 L229.93,349.98 L230.70,349.35 L231.48,348.72 L232.25,348.09 L233.03,347.46 L233.81,346.82 L234.58,346.18 L235.36,345.53 L236.13,344.89 L236.91,344.24 L237.68,343.59 L238.46,342.94 L239.24,342.28 L240.01,341.62 L240.79,340.96 L241.56,340.30 L242.34,339.64 L243.12,338.98 L243.89,338.32 L244.67,337.65 L245.44,336.99 L246.22,336.32 L246.99,335.66 L247.77,334.99 L248.55,334.32 L249.32,333.66 L250.10,332.99 L250.87,332.33 L251.65,331.66 L252.43,331.00 L253.20,330.33 L253.98,329.67 L254.75,329.01 L255.53,328.35 L256.30,327.69 L257.08,327.03 L257.86,326.38 L258.63,325.73 L259.41,325.07 L260.18,324.43 L260.96,323.78 L261.74,323.14 L262.51,322.49 L263.29,321.86 L264.06,321.22 L264.84,320.59 L265.61,319.96 L266.39,319.34 L267.17,318.71 L267.94,318.10 L268.72,317.48 L269.49,316.87 L270.27,316.27 L271.05,315.67 L271.82,315.07 L272.60,314.48 L273.37,313.89 L274.15,313.31 L274.92,312.74 L275.70,312.17 L276.48,311.60 L277.25,311.04 L278.03,310.49 L278.80,309.94 L279.58,309.40 L280.36,308.86 L281.13,308.33 L281.91,307.81 L282.68,307.30 L283.46,306.79 L284.23,306.29 L285.01,305.79 L285.79,305.31 L286.56,304.83 L287.34,304.36 L288.11,303.89 L288.89,303.44 L289.67,302.99 L290.44,302.55 L291.22,302.12 L291.99,301.70 L292.77,301.29 L293.54,300.88 L294.32,300.49 L295.10,300.10 L295.87,299.73 L296.65,299.36 L297.42,299.01 L298.20,298.66 L298.98,298.32 L299.75,298.00 L300.53,297.68 L301.30,297.38 L302.08,297.08 L302.85,296.80 L303.63,296.52 L304.41,296.26 L305.18,296.01 L305.96,295.77 L306.73,295.54 L307.51,295.33 L308.29,295.13 L309.06,294.93 L309.84,294.76 L310.61,294.59 L311.39,294.43 L312.16,294.29 L312.94,294.16 L313.72,294.05 L314.49,293.95 L315.27,293.86 L316.04,293.78 L316.82,293.72 L317.60,293.67 L318.37,293.64 L319.15,293.62 L319.92,293.61 L320.70,293.62 L321.47,293.64 L322.25,293.67 L323.03,293.72 L323.80,293.78 L324.58,293.86 L325.35,293.94 L326.13,294.04 L326.91,294.15 L327.68,294.27 L328.46,294.41 L329.23,294.56 L330.01,294.72 L330.78,294.89 L331.56,295.07 L332.34,295.26 L333.11,295.46 L333.89,295.68 L334.66,295.90 L335.44,296.14 L336.22,296.38 L336.99,296.64 L337.77,296.90 L338.54,297.18 L339.32,297.46 L340.09,297.76 L340.87,298.06 L341.65,298.37 L342.42,298.69 L343.20,299.02 L343.97,299.36 L344.75,299.70 L345.53,300.06 L346.30,300.42 L347.08,300.79 L347.85,301.17 L348.63,301.55 L349.40,301.94 L350.18,302.34 L350.96,302.75 L351.73,303.16 L352.51,303.58 L353.28,304.00 L354.06,304.43 L354.84,304.87 L355.61,305.31 L356.39,305.76 L357.16,306.21 L357.94,306.67 L358.71,307.14 L359.49,307.60 L360.27,308.08 L361.04,308.56 L361.82,309.04 L362.59,309.52 L363.37,310.02 L364.15,310.51 L364.92,311.01 L365.70,311.51 L366.47,312.01 L367.25,312.52 L368.02,313.03 L368.80,313.54 L369.58,314.06 L370.35,313.47 L371.13,312.88 L371.91,312.29 L372.69,311.71 L373.47,311.13 L374.24,310.56 L375.02,309.99 L375.80,309.43 L376.58,308.86 L377.36,308.31 L378.13,307.76 L378.91,307.22 L379.69,306.68 L380.47,306.15 L381.25,305.62 L382.03,305.10 L382.80,304.59 L383.58,304.08 L384.36,303.59 L385.14,303.10 L385.92,302.62 L386.69,302.14 L387.47,301.68 L388.25,301.22 L389.03,300.77 L389.81,300.34 L390.58,299.91 L391.36,299.49 L392.14,299.08 L392.92,298.68 L393.70,298.30 L394.47,297.92 L395.25,297.56 L396.03,297.20 L396.81,296.86 L397.59,296.53 L398.36,296.21 L399.14,295.91 L399.92,295.61 L400.70,295.34 L401.48,295.07 L402.25,294.81 L403.03,294.57 L403.81,294.34 L404.59,294.13 L405.37,293.92 L406.15,293.73 L406.92,293.56 L407.70,293.39 L408.48,293.24 L409.26,293.10 L410.04,292.97 L410.81,292.85 L411.59,292.75 L412.37,292.66 L413.15,292.58 L413.93,292.51 L414.70,292.46 L415.48,292.42 L416.26,292.39 L417.04,292.37 L417.82,292.36 L418.59,292.37 L419.37,292.39 L420.15,292.42 L420.93,292.46 L421.71,292.52 L422.48,292.58 L423.26,292.66 L424.04,292.75 L424.82,292.85 L425.60,292.97 L426.38,293.09 L427.15,293.23 L427.93,293.38 L428.71,293.54 L429.49,293.71 L430.27,293.89 L431.04,294.09 L431.82,294.30 L432.60,294.52 L433.38,294.75 L434.16,294.99 L434.93,295.24 L435.71,295.50 L436.49,295.78 L437.27,296.07 L438.05,296.36 L438.82,296.67 L439.60,296.99 L440.38,297.32 L441.16,297.67 L441.94,298.02 L442.71,298.39 L443.49,298.76 L444.27,299.15 L445.05,299.55 L445.83,299.95 L446.60,300.37 L447.38,300.80 L448.16,301.25 L448.94,301.70 L449.72,302.16 L450.50,302.63 L451.27,303.12 L452.05,303.61 L452.83,304.12 L453.61,304.64 L454.39,305.16 L455.16,305.70 L455.94,306.25 L456.72,306.81 L457.50,307.37 L458.28,307.95 L459.05,308.54 L459.83,309.14 L460.61,309.74 L461.39,310.36 L462.17,310.98 L462.94,311.61 L463.72,312.26 L464.50,312.90 L465.28,313.56 L466.06,314.23 L466.83,314.90 L467.61,315.58 L468.39,316.27 L469.17,316.97 L469.95,317.67 L470.72,318.38 L471.50,319.09 L472.28,319.81 L473.06,320.54 L473.84,321.27 L474.62,322.01 L475.39,322.76 L476.17,323.51 L476.95,324.27 L477.73,325.03 L478.51,325.79 L479.28,326.56 L480.06,327.34 L480.84,328.11 L481.62,328.90 L482.40,329.68 L483.17,330.47 L483.95,331.27 L484.73,332.06 L485.51,332.86 L486.29,333.66 L487.06,334.47 L487.84,335.28 L488.62,336.09 L489.40,336.90 L490.18,337.71 L490.95,338.53 L491.73,339.34 L492.51,340.16 L493.29,340.98 L494.07,341.80 L494.85,342.62 L495.62,343.44 L496.40,344.26 L497.18,345.09 L497.96,345.91 L498.74,346.73 L499.51,347.55 L500.29,348.37 L501.07,349.19 L501.85,350.01 L502.63,350.82 L503.45,351.29 L504.28,351.75 L505.11,352.21 L505.94,352.67 L506.77,353.13 L507.59,353.58 L508.42,354.03 L509.25,354.48 L510.08,354.93 L510.90,355.37 L511.73,355.82 L512.56,356.26 L513.39,356.69 L514.22,357.13 L515.04,357.56 L515.87,357.99 L516.70,358.42 L517.53,358.84 L518.36,359.27 L519.18,359.69 L520.01,360.11 L520.84,360.53" fill="none" stroke="#111111" stroke-width="2.0" stroke-linejoin="round" stroke-linecap="round"/>
<path d="M217.39,362.57 L218.18,361.60 L218.97,360.56 L219.77,359.46 L220.56,358.30 L221.36,357.08 L222.15,355.78 L222.94,354.40 L223.72,353.65 L224.50,352.89 L225.27,352.13 L226.05,351.35 L226.82,350.57 L227.60,349.78 L228.37,348.98 L229.15,348.17 L229.93,347.36 L230.70,346.54 L231.48,345.72 L232.25,344.89 L233.03,344.05 L233.81,343.21 L234.58,342.37 L235.36,341.52 L236.13,340.66 L236.91,339.81 L237.68,338.95 L238.46,338.08 L239.24,337.22 L240.01,336.35 L240.79,335.48 L241.56,334.61 L242.34,333.73 L243.12,332.86 L243.89,331.98 L244.67,331.11 L245.44,330.24 L246.22,329.36 L246.99,328.49 L247.77,327.62 L248.55,326.74 L249.32,325.88 L250.10,325.01 L250.87,324.14 L251.65,323.28 L252.43,322.43 L253.20,321.57 L253.98,320.72 L254.75,319.87 L255.53,319.03 L256.30,318.19 L257.08,317.36 L257.86,316.54 L258.63,315.72 L259.41,314.90 L260.18,314.10 L260.96,313.30 L261.74,312.50 L262.51,311.72 L263.29,310.94 L264.06,310.17 L264.84,309.40 L265.61,308.65 L266.39,307.90 L267.17,307.16 L267.94,306.42 L268.72,305.70 L269.49,304.98 L270.27,304.27 L271.05,303.57 L271.82,302.88 L272.60,302.20 L273.37,301.52 L274.15,300.86 L274.92,300.20 L275.70,299.56 L276.48,298.92 L277.25,298.29 L278.03,297.67 L278.80,297.06 L279.58,296.46 L280.36,295.87 L281.13,295.29 L281.91,294.72 L282.68,294.16 L283.46,293.61 L284.23,293.07 L285.01,292.54 L285.79,292.02 L286.56,291.51 L287.34,291.01 L288.11,290.53 L288.89,290.05 L289.67,289.59 L290.44,289.14 L291.22,288.69 L291.99,288.26 L292.77,287.85 L293.54,287.44 L294.32,287.04 L295.10,286.66 L295.87,286.29 L296.65,285.93 L297.42,285.59 L298.20,285.25 L298.98,284.93 L299.75,284.62 L300.53,284.32 L301.30,284.04 L302.08,283.77 L302.85,283.51 L303.63,283.27 L304.41,283.04 L305.18,282.82 L305.96,282.62 L306.73,282.43 L307.51,282.25 L308.29,282.09 L309.06,281.94 L309.84,281.81 L310.61,281.69 L311.39,281.58 L312.16,281.49 L312.94,281.41 L313.72,281.35 L314.49,281.30 L315.27,281.27 L316.04,281.25 L316.82,281.25 L317.60,281.26 L318.37,281.28 L319.15,281.32 L319.92,281.38 L320.70,281.45 L321.47,281.53 L322.25,281.62 L323.03,281.73 L323.80,281.85 L324.58,281.99 L325.35,282.13 L326.13,282.29 L326.91,282.47 L327.68,282.65 L328.46,282.85 L329.23,283.06 L330.01,283.29 L330.78,283.52 L331.56,283.77 L332.34,284.03 L333.11,284.30 L333.89,284.58 L334.66,284.87 L335.44,285.18 L336.22,285.49 L336.99,285.82 L337.77,286.16 L338.54,286.51 L339.32,286.87 L340.09,287.24 L340.87,287.61 L341.65,288.00 L342.42,288.40 L343.20,288.81 L343.97,289.23 L344.75,289.66 L345.53,290.10 L346.30,290.55 L347.08,291.00 L347.85,291.47 L348.63,291.94 L349.40,292.43 L350.18,292.92 L350.96,293.42 L351.73,293.93 L352.51,294.44 L353.28,294.97 L354.06,295.50 L354.84,296.04 L355.61,296.59 L356.39,297.14 L357.16,297.70 L357.94,298.27 L358.71,298.84 L359.49,299.42 L360.27,300.00 L361.04,300.60 L361.82,301.19 L362.59,301.79 L363.37,302.40 L364.15,303.01 L364.92,303.63 L365.70,304.25 L366.47,304.88 L367.25,305.51 L368.02,306.14 L368.80,306.78 L369.58,307.42 L370.35,306.79 L371.13,306.16 L371.91,305.52 L372.69,304.87 L373.47,304.22 L374.24,303.56 L375.02,302.90 L375.80,302.24 L376.58,301.58 L377.36,300.91 L378.13,300.24 L378.91,299.58 L379.69,298.91 L380.47,298.24 L381.25,297.58 L382.03,296.92 L382.80,296.26 L383.58,295.61 L384.36,294.96 L385.14,294.32 L385.92,293.68 L386.69,293.05 L387.47,292.43 L388.25,291.82 L389.03,291.21 L389.81,290.61 L390.58,290.03 L391.36,289.45 L392.14,288.89 L392.92,288.33 L393.70,287.79 L394.47,287.26 L395.25,286.75 L396.03,286.25 L396.81,285.77 L397.59,285.30 L398.36,284.84 L399.14,284.41 L399.92,283.99 L400.70,283.59 L401.48,283.21 L402.25,282.84 L403.03,282.50 L403.81,282.17 L404.59,281.85 L405.37,281.56 L406.15,281.28 L406.92,281.02 L407.70,280.78 L408.48,280.55 L409.26,280.34 L410.04,280.15 L410.81,279.97 L411.59,279.81 L412.37,279.67 L413.15,279.55 L413.93,279.44 L414.70,279.34 L415.48,279.26 L416.26,279.20 L417.04,279.16 L417.82,279.13 L418.59,279.11 L419.37,279.12 L420.15,279.13 L420.93,279.17 L421.71,279.21 L422.48,279.28 L423.26,279.36 L424.04,279.45 L424.82,279.56 L425.60,279.69 L426.38,279.82 L427.15,279.98 L427.93,280.15 L428.71,280.33 L429.49,280.53 L430.27,280.74 L431.04,280.97 L431.82,281.21 L432.60,281.47 L433.38,281.74 L434.16,282.02 L434.93,282.32 L435.71,282.63 L436.49,282.95 L437.27,283.29 L438.05,283.64 L438.82,284.01 L439.60,284.39 L440.38,284.78 L441.16,285.19 L441.94,285.61 L442.71,286.04 L443.49,286.48 L444.27,286.94 L445.05,287.41 L445.83,287.90 L446.60,288.39 L447.38,288.90 L448.16,289.42 L448.94,289.95 L449.72,290.50 L450.50,291.06 L451.27,291.63 L452.05,292.21 L452.83,292.80 L453.61,293.41 L454.39,294.02 L455.16,294.65 L455.94,295.29 L456.72,295.94 L457.50,296.61 L458.28,297.28 L459.05,297.97 L459.83,298.66 L460.61,299.37 L461.39,300.09 L462.17,300.82 L462.94,301.56 L463.72,302.31 L464.50,303.06 L465.28,303.84 L466.06,304.62 L466.83,305.41 L467.61,306.21 L468.39,307.02 L469.17,307.84 L469.95,308.67 L470.72,309.50 L471.50,310.35 L472.28,311.21 L473.06,312.08 L473.84,312.95 L474.62,313.84 L475.39,314.73 L476.17,315.64 L476.95,316.55 L477.73,317.47 L478.51,318.40 L479.28,319.33 L480.06,320.28 L480.84,321.23 L481.62,322.19 L482.40,323.16 L483.17,324.14 L483.95,325.13 L484.73,326.12 L485.51,327.12 L486.29,328.13 L487.06,329.14 L487.84,330.16 L488.62,331.19 L489.40,332.23 L490.18,333.27 L490.95,334.32 L491.73,335.38 L492.51,336.44 L493.29,337.51 L494.07,338.59 L494.85,339.67 L495.62,340.76 L496.40,341.86 L497.18,342.96 L497.96,344.06 L498.74,345.18 L499.51,346.30 L500.29,347.42 L501.07,348.55 L501.85,349.68 L502.63,350.82 L503.45,351.29 L504.28,351.75 L505.11,352.21 L505.94,352.67 L506.77,353.13 L507.59,353.58 L508.42,354.03 L509.25,354.48 L510.08,354.93 L510.90,355.37 L511.73,355.82 L512.56,356.26 L513.39,356.69 L514.22,357.13 L515.04,357.56 L515.87,357.99 L516.70,358.42 L517.53,358.84 L518.36,359.27 L519.18,359.69 L520.01,360.11 L520.84,360.53" fill="none" stroke="#18f0f0" stroke-width="2.0" stroke-linejoin="round" stroke-linecap="round"/>
<path d="M217.39,362.57 L218.18,361.51 L218.97,360.36 L219.77,359.13 L220.56,357.83 L221.36,356.46 L222.15,354.96 L222.94,353.38 L223.72,352.34 L224.50,351.30 L225.27,350.25 L226.05,349.20 L226.82,348.15 L227.60,347.09 L228.37,346.04 L229.15,344.97 L229.93,343.91 L230.70,342.84 L231.48,341.78 L232.25,340.71 L233.03,339.64 L233.81,338.57 L234.58,337.49 L235.36,336.42 L236.13,335.35 L236.91,334.27 L237.68,333.20 L238.46,332.12 L239.24,331.05 L240.01,329.97 L240.79,328.90 L241.56,327.83 L242.34,326.76 L243.12,325.69 L243.89,324.63 L244.67,323.56 L245.44,322.50 L246.22,321.44 L246.99,320.38 L247.77,319.33 L248.55,318.27 L249.32,317.23 L250.10,316.18 L250.87,315.14 L251.65,314.10 L252.43,313.07 L253.20,312.04 L253.98,311.02 L254.75,310.00 L255.53,308.99 L256.30,307.98 L257.08,306.98 L257.86,305.98 L258.63,304.99 L259.41,304.01 L260.18,303.03 L260.96,302.06 L261.74,301.10 L262.51,300.14 L263.29,299.19 L264.06,298.25 L264.84,297.32 L265.61,296.40 L266.39,295.48 L267.17,294.57 L267.94,293.67 L268.72,292.78 L269.49,291.90 L270.27,291.03 L271.05,290.17 L271.82,289.32 L272.60,288.48 L273.37,287.65 L274.15,286.83 L274.92,286.02 L275.70,285.22 L276.48,284.43 L277.25,283.66 L278.03,282.89 L278.80,282.14 L279.58,281.40 L280.36,280.68 L281.13,279.96 L281.91,279.26 L282.68,278.58 L283.46,277.90 L284.23,277.24 L285.01,276.59 L285.79,275.96 L286.56,275.34 L287.34,274.74 L288.11,274.15 L288.89,273.58 L289.67,273.02 L290.44,272.48 L291.22,271.95 L291.99,271.44 L292.77,270.94 L293.54,270.46 L294.32,270.00 L295.10,269.55 L295.87,269.13 L296.65,268.72 L297.42,268.32 L298.20,267.95 L298.98,267.59 L299.75,267.25 L300.53,266.93 L301.30,266.62 L302.08,266.34 L302.85,266.08 L303.63,265.83 L304.41,265.61 L305.18,265.40 L305.96,265.21 L306.73,265.05 L307.51,264.90 L308.29,264.78 L309.06,264.68 L309.84,264.60 L310.61,264.53 L311.39,264.50 L312.16,264.48 L312.94,264.48 L313.72,264.50 L314.49,264.54 L315.27,264.60 L316.04,264.68 L316.82,264.78 L317.60,264.90 L318.37,265.04 L319.15,265.20 L319.92,265.37 L320.70,265.56 L321.47,265.77 L322.25,266.00 L323.03,266.24 L323.80,266.50 L324.58,266.78 L325.35,267.07 L326.13,267.38 L326.91,267.70 L327.68,268.04 L328.46,268.40 L329.23,268.76 L330.01,269.15 L330.78,269.55 L331.56,269.96 L332.34,270.38 L333.11,270.82 L333.89,271.27 L334.66,271.74 L335.44,272.22 L336.22,272.71 L336.99,273.21 L337.77,273.72 L338.54,274.25 L339.32,274.78 L340.09,275.33 L340.87,275.89 L341.65,276.46 L342.42,277.04 L343.20,277.62 L343.97,278.22 L344.75,278.83 L345.53,279.45 L346.30,280.07 L347.08,280.70 L347.85,281.35 L348.63,282.00 L349.40,282.65 L350.18,283.32 L350.96,283.99 L351.73,284.67 L352.51,285.35 L353.28,286.05 L354.06,286.74 L354.84,287.45 L355.61,288.16 L356.39,288.87 L357.16,289.59 L357.94,290.31 L358.71,291.04 L359.49,291.78 L360.27,292.51 L361.04,293.25 L361.82,293.99 L362.59,294.74 L363.37,295.49 L364.15,296.24 L364.92,297.00 L365.70,297.75 L366.47,298.51 L367.25,299.27 L368.02,300.03 L368.80,300.79 L369.58,301.55 L370.35,300.62 L371.13,299.68 L371.91,298.75 L372.69,297.81 L373.47,296.87 L374.24,295.93 L375.02,295.00 L375.80,294.06 L376.58,293.12 L377.36,292.19 L378.13,291.26 L378.91,290.33 L379.69,289.40 L380.47,288.49 L381.25,287.57 L382.03,286.66 L382.80,285.76 L383.58,284.87 L384.36,283.99 L385.14,283.11 L385.92,282.25 L386.69,281.39 L387.47,280.55 L388.25,279.72 L389.03,278.90 L389.81,278.09 L390.58,277.30 L391.36,276.52 L392.14,275.76 L392.92,275.01 L393.70,274.28 L394.47,273.56 L395.25,272.87 L396.03,272.19 L396.81,271.53 L397.59,270.89 L398.36,270.28 L399.14,269.68 L399.92,269.11 L400.70,268.55 L401.48,268.03 L402.25,267.52 L403.03,267.03 L403.81,266.57 L404.59,266.13 L405.37,265.71 L406.15,265.31 L406.92,264.93 L407.70,264.58 L408.48,264.24 L409.26,263.93 L410.04,263.64 L410.81,263.37 L411.59,263.12 L412.37,262.89 L413.15,262.68 L413.93,262.49 L414.70,262.32 L415.48,262.18 L416.26,262.05 L417.04,261.95 L417.82,261.86 L418.59,261.80 L419.37,261.75 L420.15,261.73 L420.93,261.72 L421.71,261.73 L422.48,261.77 L423.26,261.82 L424.04,261.90 L424.82,261.99 L425.60,262.10 L426.38,262.23 L427.15,262.38 L427.93,262.55 L428.71,262.74 L429.49,262.94 L430.27,263.17 L431.04,263.41 L431.82,263.67 L432.60,263.95 L433.38,264.25 L434.16,264.57 L434.93,264.91 L435.71,265.26 L436.49,265.63 L437.27,266.02 L438.05,266.43 L438.82,266.85 L439.60,267.30 L440.38,267.76 L441.16,268.23 L441.94,268.73 L442.71,269.24 L443.49,269.77 L444.27,270.31 L445.05,270.87 L445.83,271.45 L446.60,272.05 L447.38,272.66 L448.16,273.28 L448.94,273.93 L449.72,274.59 L450.50,275.26 L451.27,275.95 L452.05,276.65 L452.83,277.37 L453.61,278.10 L454.39,278.85 L455.16,279.62 L455.94,280.39 L456.72,281.18 L457.50,281.99 L458.28,282.81 L459.05,283.64 L459.83,284.49 L460.61,285.35 L461.39,286.22 L462.17,287.11 L462.94,288.01 L463.72,288.92 L464.50,289.85 L465.28,290.79 L466.06,291.74 L466.83,292.71 L467.61,293.69 L468.39,294.68 L469.17,295.69 L469.95,296.71 L470.72,297.75 L471.50,298.80 L472.28,299.86 L473.06,300.94 L473.84,302.03 L474.62,303.14 L475.39,304.26 L476.17,305.39 L476.95,306.54 L477.73,307.70 L478.51,308.88 L479.28,310.06 L480.06,311.26 L480.84,312.48 L481.62,313.70 L482.40,314.94 L483.17,316.19 L483.95,317.45 L484.73,318.73 L485.51,320.01 L486.29,321.31 L487.06,322.61 L487.84,323.93 L488.62,325.26 L489.40,326.60 L490.18,327.95 L490.95,329.31 L491.73,330.68 L492.51,332.06 L493.29,333.45 L494.07,334.85 L494.85,336.26 L495.62,337.68 L496.40,339.11 L497.18,340.54 L497.96,341.99 L498.74,343.44 L499.51,344.90 L500.29,346.37 L501.07,347.85 L501.85,349.33 L502.63,350.82 L503.45,351.32 L504.28,351.80 L505.11,352.28 L505.94,352.75 L506.77,353.20 L507.59,353.65 L508.42,354.09 L509.25,354.51 L510.08,354.93 L510.90,355.33 L511.73,355.73 L512.56,356.12 L513.39,356.49 L514.22,356.86 L515.04,357.22 L515.87,357.58 L516.70,357.92 L517.53,358.26 L518.36,358.58 L519.18,358.90 L520.01,359.21 L520.84,359.50" fill="none" stroke="#e81ce8" stroke-width="2.0" stroke-linejoin="round" stroke-linecap="round"/>
<path d="M217.39,362.57 L218.18,361.69 L218.97,360.45 L219.77,358.92 L220.56,357.20 L221.36,355.21 L222.15,352.68 L222.94,349.80 L223.72,348.39 L224.50,346.97 L225.27,345.53 L226.05,344.08 L226.82,342.62 L227.60,341.16 L228.37,339.68 L229.15,338.20 L229.93,336.71 L230.70,335.22 L231.48,333.72 L232.25,332.22 L233.03,330.72 L233.81,329.21 L234.58,327.71 L235.36,326.21 L236.13,324.70 L236.91,323.20 L237.68,321.70 L238.46,320.21 L239.24,318.72 L240.01,317.23 L240.79,315.76 L241.56,314.29 L242.34,312.83 L243.12,311.37 L243.89,309.93 L244.67,308.50 L245.44,307.08 L246.22,305.66 L246.99,304.26 L247.77,302.87 L248.55,301.48 L249.32,300.11 L250.10,298.74 L250.87,297.39 L251.65,296.05 L252.43,294.71 L253.20,293.39 L253.98,292.07 L254.75,290.77 L255.53,289.47 L256.30,288.18 L257.08,286.91 L257.86,285.64 L258.63,284.39 L259.41,283.14 L260.18,281.91 L260.96,280.68 L261.74,279.47 L262.51,278.26 L263.29,277.07 L264.06,275.88 L264.84,274.71 L265.61,273.55 L266.39,272.40 L267.17,271.27 L267.94,270.14 L268.72,269.03 L269.49,267.94 L270.27,266.85 L271.05,265.78 L271.82,264.73 L272.60,263.68 L273.37,262.66 L274.15,261.64 L274.92,260.64 L275.70,259.66 L276.48,258.69 L277.25,257.74 L278.03,256.81 L278.80,255.89 L279.58,254.98 L280.36,254.10 L281.13,253.23 L281.91,252.38 L282.68,251.54 L283.46,250.73 L284.23,249.93 L285.01,249.15 L285.79,248.39 L286.56,247.65 L287.34,246.93 L288.11,246.23 L288.89,245.55 L289.67,244.89 L290.44,244.25 L291.22,243.63 L291.99,243.03 L292.77,242.45 L293.54,241.89 L294.32,241.36 L295.10,240.85 L295.87,240.36 L296.65,239.89 L297.42,239.44 L298.20,239.02 L298.98,238.62 L299.75,238.25 L300.53,237.90 L301.30,237.58 L302.08,237.27 L302.85,237.00 L303.63,236.74 L304.41,236.51 L305.18,236.31 L305.96,236.13 L306.73,235.97 L307.51,235.84 L308.29,235.73 L309.06,235.65 L309.84,235.59 L310.61,235.56 L311.39,235.55 L312.16,235.57 L312.94,235.61 L313.72,235.68 L314.49,235.77 L315.27,235.88 L316.04,236.03 L316.82,236.19 L317.60,236.39 L318.37,236.61 L319.15,236.85 L319.92,237.12 L320.70,237.42 L321.47,237.74 L322.25,238.08 L323.03,238.46 L323.80,238.85 L324.58,239.28 L325.35,239.73 L326.13,240.21 L326.91,240.71 L327.68,241.24 L328.46,241.80 L329.23,242.38 L330.01,242.99 L330.78,243.62 L331.56,244.28 L332.34,244.97 L333.11,245.69 L333.89,246.43 L334.66,247.20 L335.44,247.99 L336.22,248.82 L336.99,249.67 L337.77,250.54 L338.54,251.45 L339.32,252.38 L340.09,253.34 L340.87,254.32 L341.65,255.34 L342.42,256.37 L343.20,257.43 L343.97,258.52 L344.75,259.62 L345.53,260.75 L346.30,261.89 L347.08,263.05 L347.85,264.23 L348.63,265.42 L349.40,266.63 L350.18,267.85 L350.96,269.09 L351.73,270.33 L352.51,271.58 L353.28,272.85 L354.06,274.11 L354.84,275.39 L355.61,276.67 L356.39,277.96 L357.16,279.24 L357.94,280.53 L358.71,281.82 L359.49,283.11 L360.27,284.39 L361.04,285.68 L361.82,286.96 L362.59,288.23 L363.37,289.50 L364.15,290.75 L364.92,292.00 L365.70,293.24 L366.47,294.47 L367.25,295.69 L368.02,296.89 L368.80,298.08 L369.58,299.25 L370.35,296.94 L371.13,294.95 L371.91,293.24 L372.69,291.73 L373.47,290.39 L374.24,289.14 L375.02,287.95 L375.80,286.75 L376.58,285.55 L377.36,284.33 L378.13,283.10 L378.91,281.86 L379.69,280.62 L380.47,279.37 L381.25,278.11 L382.03,276.85 L382.80,275.59 L383.58,274.32 L384.36,273.06 L385.14,271.79 L385.92,270.53 L386.69,269.27 L387.47,268.01 L388.25,266.76 L389.03,265.52 L389.81,264.28 L390.58,263.06 L391.36,261.84 L392.14,260.64 L392.92,259.44 L393.70,258.27 L394.47,257.10 L395.25,255.96 L396.03,254.83 L396.81,253.72 L397.59,252.63 L398.36,251.56 L399.14,250.51 L399.92,249.49 L400.70,248.49 L401.48,247.51 L402.25,246.56 L403.03,245.63 L403.81,244.73 L404.59,243.86 L405.37,243.01 L406.15,242.18 L406.92,241.38 L407.70,240.61 L408.48,239.86 L409.26,239.14 L410.04,238.45 L410.81,237.78 L411.59,237.14 L412.37,236.52 L413.15,235.94 L413.93,235.38 L414.70,234.84 L415.48,234.34 L416.26,233.86 L417.04,233.41 L417.82,232.99 L418.59,232.60 L419.37,232.24 L420.15,231.90 L420.93,231.60 L421.71,231.32 L422.48,231.07 L423.26,230.86 L424.04,230.67 L424.82,230.51 L425.60,230.38 L426.38,230.29 L427.15,230.22 L427.93,230.18 L428.71,230.18 L429.49,230.20 L430.27,230.26 L431.04,230.35 L431.82,230.46 L432.60,230.62 L433.38,230.80 L434.16,231.01 L434.93,231.26 L435.71,231.54 L436.49,231.85 L437.27,232.20 L438.05,232.58 L438.82,232.99 L439.60,233.43 L440.38,233.91 L441.16,234.43 L441.94,234.97 L442.71,235.55 L443.49,236.16 L444.27,236.80 L445.05,237.46 L445.83,238.16 L446.60,238.88 L447.38,239.63 L448.16,240.41 L448.94,241.21 L449.72,242.03 L450.50,242.87 L451.27,243.74 L452.05,244.62 L452.83,245.53 L453.61,246.45 L454.39,247.39 L455.16,248.35 L455.94,249.33 L456.72,250.31 L457.50,251.31 L458.28,252.33 L459.05,253.35 L459.83,254.39 L460.61,255.43 L461.39,256.48 L462.17,257.55 L462.94,258.62 L463.72,259.70 L464.50,260.80 L465.28,261.91 L466.06,263.04 L466.83,264.20 L467.61,265.37 L468.39,266.57 L469.17,267.79 L469.95,269.04 L470.72,270.32 L471.50,271.63 L472.28,272.98 L473.06,274.36 L473.84,275.78 L474.62,277.23 L475.39,278.73 L476.17,280.28 L476.95,281.87 L477.73,283.50 L478.51,285.19 L479.28,286.92 L480.06,288.71 L480.84,290.56 L481.62,292.46 L482.40,294.42 L483.17,296.45 L483.95,298.53 L484.73,300.68 L485.51,302.89 L486.29,305.14 L487.06,307.44 L487.84,309.77 L488.62,312.12 L489.40,314.50 L490.18,316.89 L490.95,319.28 L491.73,321.67 L492.51,324.05 L493.29,326.42 L494.07,328.76 L494.85,331.07 L495.62,333.34 L496.40,335.56 L497.18,337.73 L497.96,339.84 L498.74,341.88 L499.51,343.85 L500.29,345.74 L501.07,347.53 L501.85,349.23 L502.63,350.82 L503.45,351.29 L504.28,351.75 L505.11,352.21 L505.94,352.67 L506.77,353.13 L507.59,353.58 L508.42,354.03 L509.25,354.48 L510.08,354.93 L510.90,355.37 L511.73,355.79 L512.56,356.20 L513.39,356.61 L514.22,357.04 L515.04,357.47 L515.87,357.92 L516.70,358.41 L517.53,358.92 L518.36,359.48 L519.18,360.06 L520.01,360.67 L520.84,361.29" fill="none" stroke="#18ee18" stroke-width="2.0" stroke-linejoin="round" stroke-linecap="round"/>
<path d="M318.90,299.32 L325.10,299.32 L322.00,304.75 Z" fill="#000"/>
<path d="M414.70,302.58 L420.90,302.58 L417.80,297.16 Z" fill="#000"/>
<path d="M316.10,291.12 L322.30,291.12 L319.20,296.55 Z" fill="#000"/>
<path d="M414.70,293.78 L420.90,293.78 L417.80,288.36 Z" fill="#000"/>
<path d="M312.70,279.12 L318.90,279.12 L315.80,284.55 Z" fill="#000"/>
<path d="M414.70,281.18 L420.90,281.18 L417.80,275.75 Z" fill="#000"/>
<path d="M312.70,262.12 L318.90,262.12 L315.80,267.55 Z" fill="#000"/>
<path d="M418.50,262.88 L424.70,262.88 L421.60,257.45 Z" fill="#000"/>
<path d="M309.90,233.02 L316.10,233.02 L313.00,238.44 Z" fill="#000"/>
<path d="M427.30,232.08 L433.50,232.08 L430.40,226.66 Z" fill="#000"/>
<rect x="214.3" y="210.9" width="308.70" height="153.20" fill="none" stroke="#cacaca" stroke-width="1"/>
<line x1="245.17" y1="364.1" x2="245.17" y2="361.6" stroke="#cacaca" stroke-width="1"/>
<line x1="245.17" y1="210.9" x2="245.17" y2="213.4" stroke="#cacaca" stroke-width="1"/>
<line x1="276.04" y1="364.1" x2="276.04" y2="361.6" stroke="#cacaca" stroke-width="1"/>
<line x1="276.04" y1="210.9" x2="276.04" y2="213.4" stroke="#cacaca" stroke-width="1"/>
<line x1="306.91" y1="364.1" x2="306.91" y2="361.6" stroke="#cacaca" stroke-width="1"/>
<line x1="306.91" y1="210.9" x2="306.91" y2="213.4" stroke="#cacaca" stroke-width="1"/>
<line x1="337.78" y1="364.1" x2="337.78" y2="361.6" stroke="#cacaca" stroke-width="1"/>
<line x1="337.78" y1="210.9" x2="337.78" y2="213.4" stroke="#cacaca" stroke-width="1"/>
<line x1="368.65" y1="364.1" x2="368.65" y2="361.6" stroke="#cacaca" stroke-width="1"/>
<line x1="368.65" y1="210.9" x2="368.65" y2="213.4" stroke="#cacaca" stroke-width="1"/>
<line x1="399.52" y1="364.1" x2="399.52" y2="361.6" stroke="#cacaca" stroke-width="1"/>
<line x1="399.52" y1="210.9" x2="399.52" y2="213.4" stroke="#cacaca" stroke-width="1"/>
<line x1="430.39" y1="364.1" x2="430.39" y2="361.6" stroke="#cacaca" stroke-width="1"/>
<line x1="430.39" y1="210.9" x2="430.39" y2="213.4" stroke="#cacaca" stroke-width="1"/>
<line x1="461.26" y1="364.1" x2="461.26" y2="361.6" stroke="#cacaca" stroke-width="1"/>
<line x1="461.26" y1="210.9" x2="461.26" y2="213.4" stroke="#cacaca" stroke-width="1"/>
<line x1="492.13" y1="364.1" x2="492.13" y2="361.6" stroke="#cacaca" stroke-width="1"/>
<line x1="492.13" y1="210.9" x2="492.13" y2="213.4" stroke="#cacaca" stroke-width="1"/>
<line x1="214.3" y1="338.57" x2="216.8" y2="338.57" stroke="#cacaca" stroke-width="1"/>
<line x1="523.0" y1="338.57" x2="520.5" y2="338.57" stroke="#cacaca" stroke-width="1"/>
<line x1="214.3" y1="313.03" x2="216.8" y2="313.03" stroke="#cacaca" stroke-width="1"/>
<line x1="523.0" y1="313.03" x2="520.5" y2="313.03" stroke="#cacaca" stroke-width="1"/>
<line x1="214.3" y1="287.50" x2="216.8" y2="287.50" stroke="#cacaca" stroke-width="1"/>
<line x1="523.0" y1="287.50" x2="520.5" y2="287.50" stroke="#cacaca" stroke-width="1"/>
<line x1="214.3" y1="261.97" x2="216.8" y2="261.97" stroke="#cacaca" stroke-width="1"/>
<line x1="523.0" y1="261.97" x2="520.5" y2="261.97" stroke="#cacaca" stroke-width="1"/>
<line x1="214.3" y1="236.43" x2="216.8" y2="236.43" stroke="#cacaca" stroke-width="1"/>
<line x1="523.0" y1="236.43" x2="520.5" y2="236.43" stroke="#cacaca" stroke-width="1"/>
<g font-size="10.7" fill="#3a3a3a" stroke="#3a3a3a" stroke-width="0.3">
<text transform="translate(214.30,379.1) scale(1.06,1)" text-anchor="middle">0</text>
<text transform="translate(245.17,379.1) scale(1.06,1)" text-anchor="middle">0.1</text>
<text transform="translate(276.04,379.1) scale(1.06,1)" text-anchor="middle">0.2</text>
<text transform="translate(306.91,379.1) scale(1.06,1)" text-anchor="middle">0.3</text>
<text transform="translate(337.78,379.1) scale(1.06,1)" text-anchor="middle">0.4</text>
<text transform="translate(368.65,379.1) scale(1.06,1)" text-anchor="middle">0.5</text>
<text transform="translate(399.52,379.1) scale(1.06,1)" text-anchor="middle">0.6</text>
<text transform="translate(430.39,379.1) scale(1.06,1)" text-anchor="middle">0.7</text>
<text transform="translate(461.26,379.1) scale(1.06,1)" text-anchor="middle">0.8</text>
<text transform="translate(492.13,379.1) scale(1.06,1)" text-anchor="middle">0.9</text>
<text transform="translate(523.00,379.1) scale(1.06,1)" text-anchor="middle">1</text>
<text transform="translate(211.2,368.60) scale(1.06,1)" text-anchor="end">0</text>
<text transform="translate(211.2,343.07) scale(1.06,1)" text-anchor="end">0.5</text>
<text transform="translate(211.2,317.53) scale(1.06,1)" text-anchor="end">1</text>
<text transform="translate(211.2,292.00) scale(1.06,1)" text-anchor="end">1.5</text>
<text transform="translate(211.2,266.47) scale(1.06,1)" text-anchor="end">2</text>
<text transform="translate(211.2,240.93) scale(1.06,1)" text-anchor="end">2.5</text>
<text transform="translate(211.2,215.40) scale(1.06,1)" text-anchor="end">3</text>
</g>
<g font-size="10.7" font-weight="bold" fill="#262626">
<text x="194.95" y="194.0" text-anchor="middle" font-size="11">Time [s]</text>
<text x="536.20" y="194.0" text-anchor="middle" font-size="11">Time [s]</text>
<text x="368.65" y="393.0" text-anchor="middle" font-size="12">Time [s]</text>
<text transform="translate(18.6,94.3) rotate(-90)" text-anchor="middle">OSS<tspan font-size="8.6" dy="3.5">Avg</tspan><tspan dy="-3.5"> [mm/mm]</tspan></text>
<text transform="translate(367,94.3) rotate(-90)" text-anchor="middle">WSS<tspan font-size="8.6" dy="3.5">Avg</tspan><tspan dy="-3.5"> [mPa]</tspan></text>
<text transform="translate(184.9,288.7) rotate(-90)" text-anchor="middle" font-size="11.4">S<tspan font-size="9.2" dy="3.4">Avg</tspan></text>
</g>
<g font-size="16.3" font-weight="bold" fill="#111" stroke="#111" stroke-width="0.25">
<text x="0.4" y="15.0">(a)</text>
<text x="351.6" y="15.0">(b)</text>
<text x="135.2" y="233.4">(c)</text>
</g>
<rect x="251.0" y="23.5" width="88.5" height="54.5" fill="#fff" stroke="#cacaca" stroke-width="1"/>
<g font-size="8.5" fill="#222" stroke="#222" stroke-width="0.3">
<line x1="252.4" y1="29.4" x2="260" y2="29.4" stroke="#f01818" stroke-width="2.0"/>
<text x="260.8" y="33.20">S1-HL6-VL9 (60%)</text>
<line x1="252.4" y1="39.8" x2="260" y2="39.8" stroke="#111111" stroke-width="2.0"/>
<text x="260.8" y="43.60">S0-HL7-VL9 (52%)</text>
<line x1="252.4" y1="50.6" x2="260" y2="50.6" stroke="#18f0f0" stroke-width="2.0"/>
<text x="260.8" y="54.40">S1-HL8-VL9 (45%)</text>
<line x1="252.4" y1="61.1" x2="260" y2="61.1" stroke="#e81ce8" stroke-width="2.0"/>
<text x="260.8" y="64.90">S1-HL9-VL9 (38%)</text>
<line x1="252.4" y1="71.8" x2="260" y2="71.8" stroke="#18ee18" stroke-width="2.0"/>
<text x="260.8" y="75.60">S1-HL10-VL9 (31%)</text>
</g>
<rect x="481.5" y="213.4" width="39.2" height="37.9" fill="#fff" stroke="#cacaca" stroke-width="1"/>
<path d="M483.20,221.22 L489.40,221.22 L486.30,226.64 Z" fill="#000"/>
<path d="M482.80,243.28 L489.00,243.28 L485.90,237.86 Z" fill="#000"/>
<g fill="#222" stroke="#222" stroke-width="0.3"><text x="490.4" y="225.5" font-size="11.2">S<tspan font-size="8.9" dy="4.4">Max1</tspan></text>
<text x="490.4" y="243.6" font-size="11.2">S<tspan font-size="8.9" dy="4.6">Max2</tspan></text></g>
</g></svg></body></html>
